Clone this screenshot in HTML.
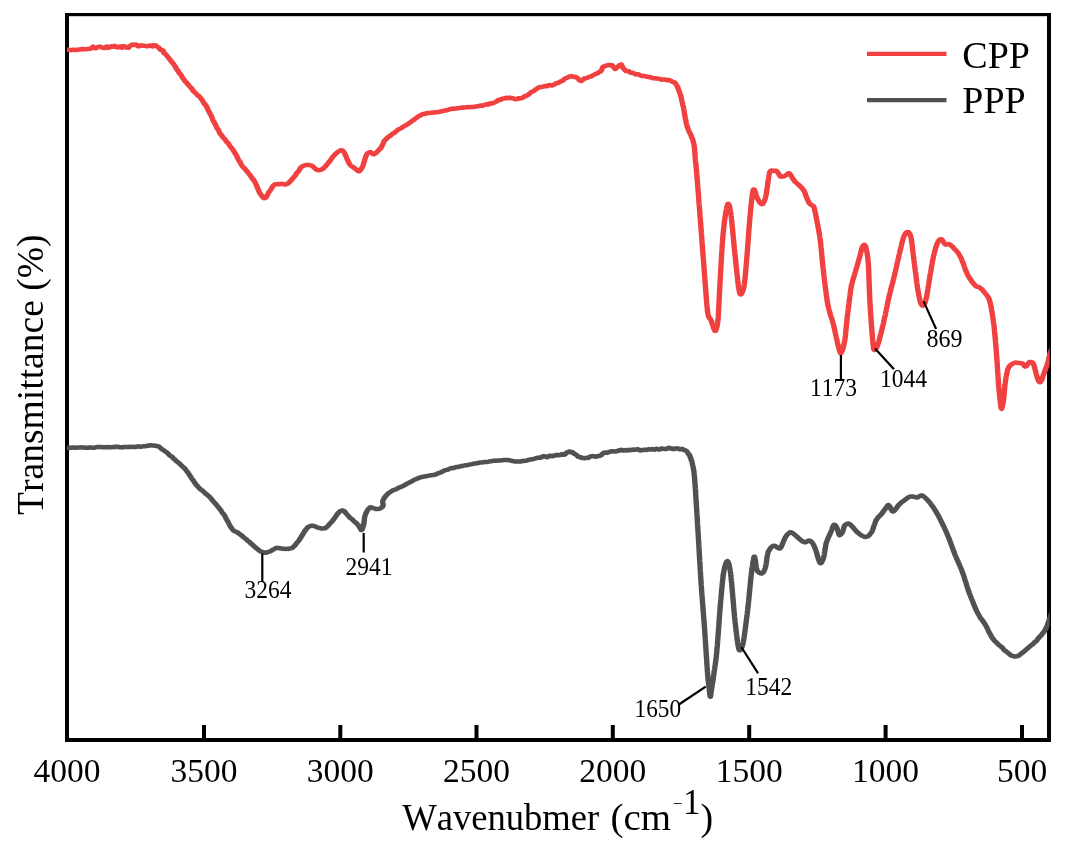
<!DOCTYPE html>
<html><head><meta charset="utf-8"><title>FTIR</title>
<style>
html,body{margin:0;padding:0;background:#fff;}
svg{display:block;will-change:transform;font-family:"Liberation Serif",serif;font-kerning:none;}
</style></head><body>
<svg width="1073" height="852" viewBox="0 0 1073 852">
<rect width="1073" height="852" fill="#fff"/>
<g fill="#000"><rect x="65" y="13" width="4" height="729"/><rect x="1047" y="13" width="4" height="729"/><rect x="65" y="13" width="986" height="3.2"/><rect x="65" y="738" width="986" height="4"/></g>
<rect x="202.0" y="725" width="4" height="14" fill="#000"/><rect x="338.3" y="725" width="4" height="14" fill="#000"/><rect x="474.5" y="725" width="4" height="14" fill="#000"/><rect x="610.8" y="725" width="4" height="14" fill="#000"/><rect x="747.2" y="725" width="4" height="14" fill="#000"/><rect x="883.6" y="725" width="4" height="14" fill="#000"/><rect x="1020.0" y="725" width="4" height="14" fill="#000"/>
<defs><clipPath id="plotclip"><rect x="67" y="16" width="982.7" height="722"/></clipPath></defs>
<g fill="none" stroke-linejoin="round" stroke-linecap="butt" clip-path="url(#plotclip)">
<g transform="scale(1.2,1)">
<polyline stroke="#f14040" stroke-width="4.5" points="51.67,50.1 52.05,50.1 52.55,50.2 53.20,50.2 54.02,50.1 55.03,49.7 56.25,49.7 56.66,49.8 57.12,49.9 57.62,49.9 58.17,50.0 58.76,50.2 59.39,50.0 60.04,50.0 60.72,49.7 61.43,49.7 62.16,49.8 62.90,49.9 63.66,49.9 64.42,49.8 65.18,49.5 65.95,49.5 66.71,49.4 67.47,49.4 68.21,49.1 68.94,49.1 69.65,49.1 70.33,49.3 70.85,49.3 71.41,49.3 72.00,49.3 72.61,49.0 73.25,49.0 73.92,48.7 74.60,48.8 75.30,48.7 76.02,48.4 76.75,47.6 77.49,46.7 78.24,47.6 79.00,47.9 79.75,48.3 80.51,47.3 81.27,47.3 82.01,46.8 82.76,46.8 83.49,46.8 84.20,46.9 84.91,47.5 85.59,47.5 86.25,47.9 86.89,47.7 87.51,48.0 88.09,47.7 88.65,46.7 89.17,46.5 89.84,46.9 90.54,47.8 91.24,47.4 91.96,47.2 92.68,46.3 93.41,46.7 94.14,46.6 94.87,46.7 95.59,45.9 96.31,46.3 97.03,47.2 97.73,47.4 98.42,47.4 99.09,46.7 99.75,46.9 100.38,46.3 101.00,46.8 101.58,47.7 102.14,47.4 102.67,47.2 103.17,46.2 103.87,47.0 104.55,46.6 105.22,47.5 105.87,47.7 106.51,47.7 107.15,47.7 107.79,46.7 108.43,46.0 109.07,45.3 109.73,44.8 110.41,44.8 111.11,44.5 111.83,45.1 112.58,45.0 113.08,44.5 113.64,44.8 114.25,45.0 114.91,46.2 115.62,46.2 116.35,46.3 117.12,45.7 117.90,45.2 118.71,45.6 119.52,45.8 120.34,45.8 121.16,45.8 121.97,46.3 122.76,46.3 123.54,46.1 124.28,45.8 125.00,45.5 125.67,45.4 126.30,45.8 126.88,46.2 127.40,46.5 127.86,45.3 128.25,45.2 129.51,45.4 130.20,45.6 130.59,46.1 130.92,46.5 131.42,47.0 131.81,47.3 132.25,47.4 132.73,48.6 133.24,48.8 133.77,49.6 134.33,50.2 134.90,50.4 135.49,50.3 136.08,51.0 136.40,52.6 136.73,53.2 137.10,53.4 137.48,53.5 137.89,54.2 138.31,54.8 138.75,55.2 139.20,55.9 139.67,56.7 140.14,57.3 140.61,58.0 141.09,58.8 141.57,59.4 142.05,60.2 142.53,60.9 143.00,61.8 143.46,62.3 143.92,63.1 144.21,63.5 144.52,64.0 144.84,64.4 145.18,65.2 145.52,65.8 145.88,66.3 146.25,66.8 146.63,67.9 147.01,68.6 147.41,69.6 147.81,70.0 148.21,70.6 148.62,71.3 149.04,72.4 149.46,73.2 149.88,73.7 150.30,74.1 150.73,74.8 151.15,75.6 151.58,76.7 152.00,77.6 152.42,78.3 152.83,78.7 153.24,79.4 153.65,80.3 154.05,81.2 154.45,81.6 154.83,81.9 155.19,82.1 155.57,82.9 155.98,83.6 156.40,84.2 156.84,84.6 157.30,85.3 157.77,85.9 158.25,86.9 158.75,87.4 159.26,87.8 159.77,88.5 160.29,89.5 160.81,90.8 161.34,91.1 161.86,91.9 162.39,92.5 162.91,93.0 163.43,93.6 163.94,94.2 164.44,95.1 164.93,95.6 165.41,95.9 165.88,96.3 166.33,96.8 166.76,97.2 167.18,97.9 167.58,98.5 167.95,99.5 168.30,99.7 168.62,100.5 168.92,100.9 169.39,102.1 169.83,102.9 170.25,103.7 170.65,104.3 171.02,104.5 171.38,105.1 171.72,105.6 172.06,106.5 172.38,107.1 172.69,108.1 172.99,108.8 173.30,109.7 173.60,110.5 173.90,111.2 174.21,111.5 174.52,112.4 174.84,113.2 175.17,114.2 175.40,114.5 175.65,114.9 175.91,115.4 176.17,116.3 176.44,117.0 176.72,117.8 177.00,118.6 177.30,119.7 177.59,120.5 177.90,120.8 178.20,121.5 178.51,122.3 178.83,123.1 179.15,123.7 179.47,124.2 179.79,125.3 180.11,126.2 180.44,127.1 180.76,128.0 181.09,128.5 181.41,129.0 181.73,129.3 182.05,130.1 182.37,130.8 182.69,131.9 183.00,132.9 183.32,133.5 183.67,133.9 184.04,134.2 184.43,135.0 184.83,135.5 185.25,136.4 185.69,137.2 186.14,137.9 186.60,138.3 187.06,138.9 187.53,139.4 188.01,140.3 188.49,141.2 188.96,142.0 189.44,142.5 189.91,142.8 190.38,143.5 190.84,144.5 191.29,145.5 191.73,146.1 192.15,146.9 192.56,147.4 192.95,148.1 193.32,148.4 193.67,148.9 194.00,149.6 194.36,150.3 194.71,151.1 195.07,151.6 195.43,152.2 195.79,152.9 196.15,153.8 196.51,154.4 196.87,155.1 197.23,155.7 197.59,157.0 197.95,158.0 198.30,158.8 198.66,159.6 199.01,160.3 199.37,160.9 199.72,161.5 200.06,161.8 200.41,162.8 200.75,163.6 201.09,164.7 201.42,165.4 201.76,166.0 202.08,166.5 202.44,167.0 202.82,167.3 203.22,167.8 203.64,168.1 204.08,168.8 204.54,169.6 205.00,170.2 205.48,170.9 205.96,171.2 206.45,172.3 206.93,173.0 207.41,173.7 207.89,174.3 208.36,174.9 208.82,176.0 209.26,176.6 209.69,177.6 210.10,178.3 210.49,178.9 210.86,179.4 211.19,179.5 211.50,180.2 211.84,180.7 212.17,181.8 212.50,182.1 212.83,183.1 213.15,184.0 213.47,184.8 213.78,185.4 214.09,186.1 214.40,187.4 214.69,188.2 214.98,188.8 215.27,189.3 215.54,190.3 215.81,191.4 216.07,192.2 216.31,192.7 216.55,193.0 216.78,193.5 217.00,194.0 217.59,194.9 218.19,195.8 218.79,196.9 219.38,197.6 219.94,198.2 220.46,197.9 220.92,198.1 221.29,197.8 221.66,197.6 222.04,196.8 222.41,195.9 222.80,194.9 223.19,194.2 223.59,193.2 224.00,192.1 224.33,191.4 224.71,191.2 225.13,190.7 225.58,189.7 226.05,188.8 226.53,187.8 227.01,186.9 227.48,185.9 227.94,185.5 228.36,185.0 228.75,184.6 229.36,184.2 230.01,184.3 230.69,184.2 231.39,184.2 232.09,183.9 232.77,184.2 233.42,184.1 234.00,184.1 234.64,183.9 235.32,183.8 236.04,184.1 236.77,184.3 237.51,184.5 238.23,184.3 238.92,183.9 239.29,184.0 239.71,183.5 240.15,183.4 240.62,182.7 241.10,182.4 241.61,181.4 242.12,180.9 242.63,180.4 243.15,179.7 243.66,178.8 244.15,178.0 244.63,177.5 245.09,176.8 245.52,176.2 245.92,175.7 246.33,175.2 246.76,174.2 247.20,173.1 247.65,172.5 248.11,172.0 248.57,171.6 249.04,170.9 249.50,169.8 249.97,168.7 250.43,167.9 250.88,167.3 251.32,166.8 251.75,166.5 252.17,166.3 252.78,165.8 253.47,165.6 254.22,165.2 255.00,165.1 255.79,165.1 256.58,165.0 257.34,165.0 258.05,165.1 258.70,165.3 259.25,165.5 259.88,165.8 260.50,166.3 261.11,166.9 261.71,167.5 262.30,168.2 262.86,168.9 263.40,169.4 263.92,169.8 264.52,170.0 265.19,170.2 265.89,170.2 266.60,169.9 267.30,169.7 267.97,169.5 268.58,169.1 269.00,168.9 269.45,168.5 269.93,168.0 270.41,167.4 270.91,166.6 271.42,166.1 271.92,165.3 272.41,164.6 272.88,163.9 273.33,163.2 273.69,162.8 274.08,162.1 274.50,161.5 274.94,160.9 275.39,160.2 275.85,159.4 276.32,158.5 276.78,157.7 277.24,157.0 277.67,156.4 278.09,155.9 278.48,155.4 278.83,154.8 279.41,154.1 280.02,153.4 280.66,152.7 281.30,152.2 281.92,151.6 282.51,151.1 283.04,150.8 283.50,150.4 284.29,150.3 285.04,150.3 285.79,150.9 286.58,152.1 286.81,152.5 287.06,153.0 287.33,153.6 287.62,154.3 287.93,155.0 288.25,156.0 288.58,157.1 288.91,158.1 289.25,159.0 289.58,159.9 289.91,160.7 290.23,161.5 290.53,162.4 290.82,163.1 291.09,163.7 291.33,164.0 291.88,165.1 292.46,165.7 293.04,166.3 293.63,166.6 294.20,167.1 294.75,167.5 295.25,167.9 295.77,168.5 296.34,169.0 296.95,169.7 297.56,170.2 298.15,170.7 298.69,171.1 299.17,171.3 299.61,171.1 300.06,170.5 300.52,169.7 300.98,169.0 301.42,168.2 301.85,167.3 302.25,166.2 302.45,165.5 302.66,164.8 302.88,163.9 303.11,163.1 303.35,162.2 303.59,161.3 303.83,160.2 304.08,159.3 304.32,158.3 304.55,157.5 304.79,156.7 305.01,156.2 305.22,155.5 305.42,154.9 305.99,153.7 306.63,153.0 307.29,152.6 307.92,152.3 308.50,152.1 309.05,152.3 309.64,152.9 310.27,153.7 310.95,154.2 311.67,154.2 312.04,154.0 312.49,153.6 312.99,153.3 313.53,152.7 314.09,152.1 314.66,151.4 315.23,150.7 315.78,149.9 316.30,149.3 316.76,148.7 317.17,148.2 317.49,147.7 317.81,147.1 318.11,146.5 318.41,145.7 318.71,144.9 319.00,144.1 319.31,143.3 319.63,142.4 319.96,141.6 320.31,140.9 320.68,140.3 321.08,139.8 321.46,139.4 321.89,138.9 322.36,138.4 322.87,137.8 323.40,137.2 323.96,136.6 324.55,136.3 325.15,135.7 325.76,135.2 326.38,134.5 327.00,133.9 327.62,133.5 328.23,133.1 328.83,132.5 329.27,132.1 329.74,131.6 330.24,131.1 330.78,130.6 331.34,130.0 331.93,129.6 332.53,129.2 333.15,128.8 333.78,128.5 334.42,128.1 335.06,127.6 335.70,127.1 336.34,126.6 336.97,126.1 337.59,125.7 338.20,125.3 338.79,124.8 339.36,124.4 339.90,124.1 340.42,123.7 340.93,123.2 341.46,122.7 342.01,122.3 342.57,121.8 343.15,121.2 343.75,120.6 344.35,120.2 344.96,119.7 345.58,119.2 346.20,118.6 346.82,118.0 347.44,117.5 348.05,117.0 348.66,116.5 349.27,116.1 349.86,115.6 350.44,115.2 351.00,114.9 351.55,114.6 352.08,114.3 352.64,114.0 353.23,113.9 353.84,113.9 354.46,113.6 355.11,113.4 355.77,113.2 356.44,113.1 357.12,113.1 357.82,113.0 358.51,112.9 359.22,112.7 359.92,112.6 360.62,112.7 361.32,112.6 362.01,112.5 362.69,112.2 363.36,112.2 364.02,112.1 364.67,112.2 365.21,112.0 365.78,112.0 366.39,111.7 367.01,111.5 367.67,111.2 368.34,111.2 369.03,111.1 369.74,110.9 370.46,110.5 371.19,110.4 371.92,110.3 372.66,110.2 373.40,109.9 374.14,109.5 374.88,109.2 375.60,109.0 376.32,108.9 377.02,108.7 377.71,108.6 378.38,108.7 379.03,108.6 379.65,108.5 380.25,108.3 380.85,108.4 381.48,108.3 382.13,108.3 382.81,108.0 383.51,107.8 384.23,107.6 384.96,107.8 385.70,107.6 386.45,107.5 387.20,107.4 387.95,107.4 388.70,107.3 389.45,107.1 390.19,107.2 390.91,107.2 391.63,107.1 392.32,107.1 392.99,107.0 393.64,107.1 394.26,107.0 394.85,106.9 395.40,106.8 395.92,106.6 396.63,106.4 397.35,106.4 398.08,106.2 398.80,106.1 399.53,105.9 400.25,105.6 400.96,105.7 401.67,105.9 402.37,105.5 403.06,105.3 403.75,104.8 404.41,104.8 405.07,104.3 405.70,104.4 406.32,104.2 406.92,104.5 407.49,104.0 408.10,103.4 408.73,103.3 409.40,103.4 410.08,103.5 410.78,103.2 411.48,102.8 412.19,102.5 412.90,102.0 413.60,101.6 414.28,100.9 414.95,100.2 415.60,99.9 416.21,100.1 416.79,99.9 417.34,99.8 417.83,99.0 418.58,98.8 419.34,98.6 420.11,98.5 420.89,98.3 421.66,97.8 422.42,97.9 423.15,98.2 423.85,98.0 424.51,97.6 425.12,97.8 425.67,97.9 426.39,98.2 427.11,98.0 427.83,98.5 428.55,98.8 429.24,99.3 429.92,99.3 430.56,99.1 431.17,98.7 431.74,98.3 432.31,98.7 432.89,98.5 433.50,98.2 434.15,98.1 434.87,97.8 435.68,97.9 436.58,96.8 436.96,96.7 437.39,96.0 437.86,96.1 438.36,95.8 438.91,95.7 439.49,95.2 440.09,94.9 440.71,94.2 441.35,93.6 442.00,92.8 442.67,92.1 443.33,91.8 443.99,91.4 444.65,91.3 445.30,90.4 445.93,89.9 446.55,89.2 447.14,89.1 447.70,88.4 448.23,88.0 448.72,87.5 449.17,87.3 449.84,87.1 450.53,87.0 451.22,87.0 451.92,86.9 452.62,86.7 453.31,86.4 454.00,86.1 454.69,86.2 455.36,86.2 456.03,86.2 456.67,85.4 457.30,85.2 457.91,84.9 458.50,85.3 459.06,85.4 459.65,85.6 460.28,85.4 460.94,85.0 461.61,84.7 462.29,84.1 462.98,83.6 463.67,83.2 464.36,83.1 465.02,83.1 465.67,82.5 466.29,82.1 466.87,81.4 467.42,81.4 467.92,81.3 468.58,80.8 469.26,80.4 469.96,79.4 470.66,78.8 471.37,78.2 472.06,77.9 472.72,77.8 473.36,77.3 473.96,76.8 474.51,76.7 475.00,76.3 475.72,76.4 476.44,76.1 477.16,76.5 477.84,76.9 478.50,77.0 479.11,76.8 479.67,76.7 480.27,77.2 480.85,77.8 481.46,78.4 482.09,79.3 482.80,80.2 483.58,80.9 484.05,81.0 484.59,81.0 485.21,80.3 485.87,79.5 486.57,78.7 487.30,78.4 488.04,78.3 488.78,78.0 489.50,77.6 490.19,77.4 490.83,76.9 491.42,76.7 492.00,76.4 492.63,76.5 493.30,76.1 494.00,75.3 494.71,75.0 495.42,74.5 496.12,74.1 496.79,73.6 497.43,73.6 498.02,73.3 498.55,72.6 499.00,72.1 499.52,72.0 499.99,71.6 500.42,71.5 500.83,70.8 501.23,70.4 501.62,69.0 502.03,68.0 502.45,66.8 502.92,66.6 503.47,66.4 504.12,66.0 504.86,65.8 505.64,65.3 506.44,65.3 507.22,64.9 507.96,65.2 508.62,65.3 509.17,65.3 509.78,65.0 510.38,65.5 510.97,66.4 511.53,67.5 512.07,68.4 512.59,69.0 513.08,68.8 513.58,68.0 514.12,67.4 514.67,67.0 515.25,66.4 515.84,65.7 516.42,65.1 517.00,64.8 517.36,64.5 517.73,64.5 518.11,65.3 518.51,66.3 518.94,67.6 519.40,68.2 519.89,68.8 520.44,69.5 521.04,70.4 521.69,71.0 522.42,71.1 522.82,71.1 523.28,71.1 523.79,71.2 524.33,71.5 524.92,72.3 525.54,72.8 526.19,72.9 526.86,72.7 527.56,72.9 528.27,73.4 528.99,73.8 529.72,74.4 530.45,74.2 531.19,74.3 531.92,74.2 532.63,74.6 533.34,75.2 534.03,75.5 534.69,76.0 535.33,76.1 535.93,75.9 536.50,75.9 537.09,76.0 537.72,76.4 538.37,76.4 539.04,76.7 539.74,77.0 540.45,77.1 541.17,77.3 541.90,77.1 542.64,77.5 543.38,77.8 544.12,78.2 544.86,78.4 545.58,78.2 546.30,78.4 547.00,78.3 547.68,78.5 548.33,78.6 548.97,78.8 549.57,78.9 550.14,79.1 550.67,79.5 551.36,79.7 552.07,79.6 552.81,79.4 553.57,79.4 554.34,79.5 555.11,80.0 555.88,80.1 556.63,80.2 557.38,80.0 558.10,80.2 558.79,80.5 559.44,81.0 560.06,81.6 560.62,81.9 561.13,82.3 561.58,82.2 562.05,82.4 562.48,83.0 562.90,83.6 563.29,84.2 563.65,84.7 564.00,85.5 564.33,86.4 564.64,86.9 564.94,87.7 565.22,88.7 565.50,89.6 565.76,90.7 566.01,91.1 566.25,92.3 566.43,92.8 566.60,93.6 566.78,93.9 566.96,94.3 567.14,95.1 567.31,95.9 567.49,96.7 567.66,97.6 567.83,98.8 568.00,99.6 568.17,100.5 568.34,101.2 568.50,102.2 568.66,102.7 568.82,103.4 568.98,104.6 569.13,105.5 569.27,106.2 569.42,106.5 569.53,107.1 569.65,107.9 569.77,109.0 569.89,109.8 570.01,110.5 570.13,111.3 570.26,112.6 570.38,113.9 570.51,114.4 570.64,115.0 570.77,115.9 570.90,116.9 571.03,118.0 571.17,118.5 571.31,119.2 571.45,119.9 571.59,121.0 571.74,122.2 571.88,123.1 572.03,123.8 572.19,124.4 572.34,125.1 572.50,125.8 572.68,126.7 572.88,127.3 573.10,128.0 573.34,128.8 573.60,129.9 573.87,130.5 574.15,131.3 574.44,132.1 574.73,132.9 575.03,133.3 575.33,133.8 575.63,134.6 575.92,135.7 576.21,136.6 576.49,137.8 576.76,138.2 577.01,138.8 577.25,139.5 577.47,140.6 577.67,141.8 577.85,142.5 578.00,143.1 578.13,143.6 578.25,144.1 578.36,144.9 578.46,145.5 578.56,146.4 578.65,147.3 578.74,148.2 578.81,149.3 578.89,150.1 578.96,151.1 579.02,152.0 579.08,153.0 579.14,154.3 579.19,155.5 579.24,156.5 579.29,157.3 579.33,157.8 579.38,158.6 579.42,159.1 579.46,159.7 579.50,160.1 579.54,160.9 579.58,161.5 579.68,162.6 579.75,162.9 579.79,163.4 579.84,163.4 579.89,163.9 579.97,164.4 580.08,166.1 580.25,168.6 580.28,169.1 580.31,169.3 580.34,169.6 580.38,169.8 580.41,170.4 580.45,171.0 580.49,172.0 580.53,172.4 580.57,173.0 580.62,173.5 580.66,174.6 580.71,175.1 580.76,175.7 580.81,176.3 580.86,177.3 580.91,178.2 580.96,179.1 581.02,179.8 581.07,180.6 581.13,181.2 581.18,181.9 581.24,182.8 581.30,183.7 581.36,184.7 581.42,185.8 581.48,186.9 581.54,187.5 581.60,188.1 581.66,189.0 581.72,190.1 581.78,191.0 581.84,191.8 581.90,192.6 581.97,193.7 582.03,194.6 582.09,195.6 582.15,196.9 582.22,198.1 582.28,199.2 582.34,200.1 582.40,201.1 582.46,202.2 582.52,202.9 582.58,203.7 582.64,204.3 582.70,205.4 582.76,206.1 582.81,207.2 582.87,208.1 582.93,208.9 582.98,209.6 583.03,210.4 583.09,211.3 583.14,212.1 583.19,212.5 583.24,213.1 583.29,213.8 583.33,214.9 583.38,215.7 583.42,216.4 583.47,217.0 583.51,217.8 583.56,218.6 583.61,219.4 583.65,220.1 583.70,220.9 583.75,221.5 583.80,222.4 583.85,223.2 583.90,224.0 583.95,224.7 584.00,225.5 584.05,226.5 584.10,227.3 584.16,227.9 584.21,228.7 584.26,229.6 584.31,230.6 584.37,231.6 584.42,232.4 584.48,233.1 584.53,233.9 584.58,234.9 584.64,235.8 584.69,236.6 584.75,237.3 584.80,238.2 584.86,239.0 584.91,240.1 584.97,240.9 585.02,241.9 585.08,242.6 585.13,243.4 585.19,244.3 585.24,245.3 585.30,246.2 585.35,247.1 585.40,248.0 585.46,248.8 585.51,249.7 585.56,250.4 585.62,251.2 585.67,252.1 585.72,252.9 585.78,253.8 585.83,254.5 585.88,255.4 585.93,256.2 585.98,257.1 586.03,258.0 586.08,258.7 586.13,259.4 586.18,259.9 586.23,260.6 586.27,261.4 586.32,262.1 586.37,262.9 586.41,263.6 586.46,264.4 586.50,265.1 586.55,265.8 586.60,266.6 586.64,267.2 586.69,268.0 586.74,268.6 586.79,269.3 586.85,270.2 586.90,271.1 586.95,272.1 587.00,273.1 587.06,273.9 587.11,274.6 587.17,275.4 587.22,276.4 587.28,277.2 587.34,278.1 587.39,279.1 587.45,280.1 587.51,281.0 587.56,281.8 587.62,282.8 587.68,283.8 587.74,284.7 587.80,285.7 587.85,286.6 587.91,287.6 587.97,288.5 588.03,289.4 588.09,290.4 588.15,291.2 588.21,292.2 588.26,293.1 588.32,294.1 588.38,294.9 588.44,295.7 588.50,296.6 588.55,297.5 588.61,298.5 588.67,299.3 588.73,299.9 588.78,300.8 588.84,301.6 588.89,302.4 588.95,303.1 589.01,304.0 589.06,304.7 589.11,305.4 589.17,306.0 589.22,306.6 589.27,307.2 589.32,307.8 589.38,308.5 589.43,309.0 589.48,309.5 589.52,310.0 589.57,310.5 589.62,311.1 589.67,311.5 589.90,313.3 590.14,314.7 590.40,315.9 590.66,316.8 590.93,317.6 591.21,318.1 591.48,318.4 591.75,318.8 592.02,319.3 592.27,319.7 592.52,320.2 592.75,320.9 592.97,321.7 593.20,322.6 593.45,323.5 593.71,324.6 593.97,325.5 594.24,326.3 594.51,327.3 594.77,328.4 595.03,329.3 595.28,330.0 595.51,330.5 595.72,330.8 595.92,331.0 596.10,330.9 596.29,330.8 596.49,330.3 596.68,329.8 596.88,329.2 597.07,328.7 597.26,327.8 597.45,326.9 597.63,325.7 597.80,324.6 597.96,323.5 598.11,322.1 598.25,320.6 598.29,320.1 598.33,319.7 598.37,319.2 598.41,318.6 598.45,318.0 598.48,317.4 598.52,316.9 598.56,316.4 598.60,315.7 598.64,314.9 598.67,314.0 598.71,313.2 598.75,312.4 598.78,311.8 598.82,311.0 598.86,310.3 598.90,309.4 598.93,308.6 598.97,307.6 599.01,306.8 599.04,305.9 599.08,305.0 599.11,304.0 599.15,303.1 599.19,302.1 599.22,301.3 599.26,300.5 599.30,299.7 599.34,298.8 599.37,297.7 599.41,296.8 599.45,295.8 599.48,294.9 599.52,294.0 599.56,293.1 599.60,292.2 599.64,291.4 599.68,290.4 599.71,289.6 599.75,288.6 599.79,287.8 599.83,286.9 599.86,286.4 599.89,285.9 599.92,285.2 599.96,284.5 599.99,283.8 600.02,283.1 600.06,282.3 600.09,281.5 600.13,280.7 600.17,280.0 600.20,279.0 600.24,278.1 600.28,277.4 600.32,276.6 600.36,275.8 600.40,274.9 600.44,274.2 600.48,273.3 600.52,272.5 600.57,271.5 600.61,270.4 600.65,269.4 600.70,268.6 600.74,267.8 600.78,266.8 600.83,265.8 600.87,264.9 600.92,264.0 600.96,263.2 601.00,262.2 601.05,261.1 601.09,260.2 601.14,259.3 601.18,258.5 601.23,257.5 601.27,256.4 601.32,255.5 601.36,254.8 601.40,253.9 601.45,252.9 601.49,251.9 601.54,251.2 601.58,250.4 601.62,249.7 601.66,248.9 601.71,248.2 601.75,247.3 601.79,246.5 601.83,245.6 601.87,244.9 601.91,244.2 601.95,243.6 601.99,242.8 602.02,242.2 602.06,241.6 602.10,241.2 602.13,240.5 602.17,240.1 602.23,239.0 602.30,238.1 602.37,237.1 602.44,236.2 602.51,235.1 602.59,234.1 602.66,233.1 602.74,232.3 602.82,231.4 602.89,230.4 602.97,229.4 603.05,228.5 603.13,227.6 603.21,226.8 603.29,226.0 603.37,225.3 603.45,224.4 603.53,223.5 603.61,222.6 603.69,221.8 603.77,221.1 603.85,220.5 603.93,219.8 604.01,219.2 604.08,218.6 604.15,218.0 604.23,217.4 604.30,216.8 604.37,216.2 604.43,215.6 604.50,214.9 604.65,213.9 604.80,212.8 604.97,211.7 605.14,210.6 605.31,209.5 605.49,208.6 605.67,207.5 605.84,206.5 606.02,205.8 606.20,205.1 606.37,204.6 606.53,204.2 606.69,203.9 606.83,203.8 606.98,203.8 607.13,204.0 607.29,204.4 607.45,204.8 607.62,205.3 607.78,205.9 607.96,206.6 608.13,207.6 608.30,208.7 608.48,210.0 608.65,211.1 608.83,212.3 609.00,213.5 609.17,215.1 609.22,215.5 609.27,216.0 609.33,216.4 609.38,217.1 609.44,217.6 609.50,218.4 609.56,218.9 609.62,219.8 609.69,220.4 609.75,221.1 609.82,221.8 609.88,222.7 609.95,223.6 610.02,224.4 610.09,225.2 610.16,225.9 610.23,226.8 610.31,227.7 610.38,228.7 610.45,229.5 610.52,230.3 610.60,231.1 610.67,232.3 610.75,233.3 610.82,234.2 610.90,235.1 610.97,236.0 611.04,236.9 611.12,237.8 611.19,238.7 611.27,239.5 611.34,240.5 611.41,241.4 611.48,242.4 611.55,243.2 611.63,244.1 611.70,245.0 611.76,245.9 611.83,246.9 611.90,247.7 611.96,248.4 612.03,249.0 612.09,249.7 612.16,250.4 612.22,251.2 612.28,252.0 612.33,252.7 612.40,253.3 612.46,254.0 612.53,254.8 612.60,255.6 612.67,256.5 612.75,257.5 612.82,258.4 612.90,259.3 612.97,260.1 613.05,260.8 613.13,261.8 613.21,262.8 613.29,263.8 613.37,264.7 613.45,265.6 613.53,266.5 613.62,267.3 613.70,268.2 613.78,269.2 613.86,270.3 613.94,271.3 614.02,272.1 614.10,273.0 614.18,273.9 614.26,274.8 614.34,275.6 614.42,276.5 614.50,277.3 614.57,278.1 614.65,278.9 614.72,279.8 614.80,280.7 614.87,281.3 614.93,282.1 615.00,282.7 615.07,283.5 615.13,284.1 615.19,284.6 615.25,285.1 615.31,285.6 615.36,286.1 615.42,286.5 615.63,288.2 615.83,289.7 616.02,291.0 616.20,292.1 616.39,293.0 616.57,293.5 616.76,293.8 616.94,294.3 617.13,294.5 617.33,294.5 617.52,294.3 617.73,294.1 617.96,293.7 618.21,293.1 618.46,292.5 618.73,291.7 618.99,290.9 619.25,289.9 619.51,288.8 619.75,287.6 619.97,286.3 620.17,284.9 620.23,284.5 620.29,284.0 620.35,283.4 620.42,283.0 620.48,282.2 620.55,281.6 620.62,280.7 620.68,280.1 620.75,279.4 620.82,278.6 620.88,277.8 620.95,277.0 621.02,276.2 621.09,275.5 621.16,274.7 621.22,273.8 621.29,272.7 621.36,271.7 621.43,270.7 621.50,269.8 621.56,269.0 621.63,268.2 621.70,267.5 621.76,266.5 621.83,265.4 621.89,264.3 621.96,263.3 622.02,262.5 622.08,261.6 622.15,260.8 622.21,259.9 622.27,259.0 622.33,258.3 622.39,257.3 622.44,256.6 622.50,255.6 622.54,255.1 622.59,254.4 622.63,253.8 622.68,253.0 622.73,252.3 622.78,251.6 622.83,250.7 622.87,249.9 622.92,249.1 622.98,248.5 623.03,247.6 623.08,246.8 623.13,245.8 623.18,244.9 623.24,244.1 623.29,243.3 623.34,242.5 623.40,241.6 623.45,240.6 623.50,239.7 623.56,238.9 623.61,238.1 623.67,237.2 623.72,236.3 623.78,235.3 623.83,234.3 623.88,233.5 623.94,232.7 623.99,231.8 624.04,230.9 624.10,230.1 624.15,229.3 624.20,228.4 624.26,227.4 624.31,226.5 624.36,225.8 624.41,225.0 624.46,224.4 624.51,223.6 624.56,222.8 624.60,222.2 624.65,221.4 624.70,220.9 624.74,220.1 624.79,219.6 624.83,218.8 624.90,218.1 624.96,217.2 625.03,216.3 625.09,215.3 625.16,214.6 625.23,213.8 625.31,213.0 625.38,212.1 625.46,211.0 625.53,209.9 625.61,208.8 625.69,208.0 625.77,207.1 625.84,206.3 625.92,205.4 626.00,204.6 626.08,203.7 626.16,202.8 626.23,201.9 626.31,200.9 626.39,200.1 626.46,199.2 626.53,198.4 626.61,197.6 626.68,197.0 626.75,196.4 626.81,195.6 626.88,194.9 626.94,194.4 627.00,193.8 627.06,193.4 627.11,193.0 627.17,192.6 627.57,190.4 627.96,189.4 628.35,189.4 628.75,189.9 628.91,190.3 629.09,190.7 629.27,191.2 629.47,192.0 629.68,193.1 629.90,194.1 630.13,195.0 630.36,195.8 630.60,196.8 630.84,197.5 631.08,198.3 631.42,199.0 631.82,199.8 632.27,200.7 632.75,201.7 633.24,202.7 633.73,203.3 634.20,203.8 634.63,203.9 635.00,204.2 635.31,204.0 635.63,203.8 635.96,203.2 636.29,202.6 636.63,201.8 636.96,200.9 637.28,199.9 637.59,198.9 637.89,197.7 638.17,196.2 638.26,195.8 638.36,195.3 638.46,194.8 638.56,193.9 638.66,193.2 638.77,192.4 638.87,191.5 638.98,190.4 639.09,189.5 639.20,188.6 639.31,187.7 639.43,186.9 639.54,185.9 639.65,184.9 639.76,183.8 639.88,182.8 639.99,181.9 640.10,180.9 640.22,179.9 640.33,179.0 640.44,178.2 640.54,177.2 640.65,176.5 640.76,175.6 640.86,175.1 640.96,174.3 641.06,173.8 641.16,173.2 641.25,172.9 641.84,171.3 642.49,170.7 643.17,170.5 643.83,170.8 644.42,170.9 645.15,170.8 645.96,170.7 646.77,170.8 647.50,171.5 647.90,172.0 648.34,172.9 648.80,173.6 649.28,174.6 649.75,175.5 650.22,176.3 650.67,176.6 651.37,176.7 652.19,176.6 653.06,176.3 653.89,176.0 654.58,175.6 655.19,175.2 655.81,174.4 656.44,173.7 657.06,173.2 657.67,173.3 657.97,173.6 658.30,174.0 658.64,174.5 658.99,175.2 659.37,176.0 659.77,177.0 660.19,177.9 660.63,178.7 661.09,179.4 661.58,180.1 661.93,180.6 662.33,181.3 662.78,181.9 663.26,182.5 663.78,183.0 664.33,183.6 664.89,184.1 665.46,184.8 666.03,185.3 666.59,186.1 667.14,186.6 667.67,187.3 668.17,187.8 668.63,188.5 669.05,189.3 669.42,190.0 669.73,190.4 670.05,191.0 670.36,191.8 670.67,192.6 670.97,193.5 671.27,194.5 671.57,195.6 671.86,196.4 672.14,197.3 672.42,198.2 672.70,198.9 672.96,199.7 673.22,200.3 673.47,201.0 673.71,201.8 673.94,202.3 674.17,202.9 674.73,203.7 675.33,204.4 675.95,204.8 676.56,205.2 677.13,205.5 677.65,205.9 678.08,206.6 678.26,207.0 678.43,207.7 678.59,208.4 678.76,209.2 678.91,210.0 679.07,210.9 679.22,211.7 679.37,212.4 679.52,213.3 679.67,214.2 679.81,215.2 679.96,216.1 680.11,217.0 680.26,217.9 680.42,218.8 680.51,219.5 680.61,220.0 680.71,220.7 680.82,221.3 680.94,222.0 681.05,222.7 681.18,223.4 681.30,224.4 681.43,225.2 681.56,226.0 681.69,226.8 681.82,227.7 681.95,228.4 682.09,229.3 682.22,230.1 682.35,231.2 682.48,232.0 682.61,232.8 682.73,233.5 682.86,234.3 682.98,235.2 683.09,236.2 683.20,237.0 683.31,238.0 683.41,238.7 683.50,239.5 683.57,240.1 683.63,240.8 683.70,241.5 683.76,242.1 683.83,242.7 683.89,243.5 683.95,244.2 684.02,244.9 684.08,245.7 684.15,246.6 684.21,247.5 684.28,248.1 684.34,248.8 684.41,249.6 684.47,250.6 684.54,251.5 684.60,252.2 684.67,253.1 684.73,253.9 684.80,254.8 684.87,255.6 684.93,256.5 685.00,257.4 685.07,258.3 685.14,259.3 685.20,260.0 685.27,260.9 685.34,261.7 685.41,262.7 685.48,263.5 685.55,264.3 685.62,265.0 685.70,265.9 685.77,266.6 685.84,267.5 685.92,268.2 685.98,268.8 686.04,269.4 686.11,270.1 686.18,270.8 686.25,271.7 686.32,272.5 686.40,273.4 686.48,274.1 686.56,274.8 686.64,275.7 686.72,276.4 686.80,277.4 686.89,278.3 686.98,279.3 687.06,280.0 687.15,281.0 687.24,281.7 687.34,282.7 687.43,283.6 687.52,284.5 687.61,285.4 687.71,286.4 687.80,287.4 687.90,288.3 687.99,289.2 688.09,290.1 688.19,291.1 688.28,291.9 688.38,292.7 688.47,293.6 688.57,294.4 688.66,295.3 688.76,296.0 688.85,296.9 688.95,297.7 689.04,298.5 689.13,299.4 689.22,300.0 689.31,300.7 689.40,301.5 689.49,302.2 689.58,302.8 689.67,303.2 689.75,303.8 689.90,304.8 690.05,305.8 690.21,306.6 690.38,307.3 690.56,308.1 690.74,309.1 690.93,310.0 691.12,310.8 691.32,311.6 691.52,312.4 691.72,313.4 691.92,314.2 692.12,315.1 692.32,315.9 692.53,316.6 692.73,317.4 692.93,318.0 693.12,318.8 693.31,319.3 693.50,320.1 693.68,320.9 693.86,321.7 694.03,322.5 694.20,323.1 694.35,323.8 694.50,324.3 694.65,325.1 694.79,325.9 694.95,326.8 695.11,327.5 695.26,328.2 695.43,329.1 695.59,330.0 695.76,331.1 695.92,331.8 696.09,332.9 696.26,333.7 696.42,334.8 696.59,335.6 696.75,336.4 696.91,337.1 697.07,338.1 697.23,338.9 697.38,339.7 697.53,340.6 697.67,341.5 697.81,342.4 697.95,343.1 698.07,343.7 698.20,344.3 698.31,344.8 698.42,345.3 698.68,346.5 698.93,347.5 699.17,348.6 699.40,349.6 699.63,350.7 699.85,351.5 700.07,352.3 700.30,352.8 700.52,353.2 700.75,353.2 700.91,352.9 701.10,352.6 701.29,352.2 701.50,351.7 701.72,350.9 701.94,350.2 702.17,349.5 702.40,348.8 702.63,347.8 702.86,346.8 703.08,345.6 703.29,344.5 703.48,343.4 703.67,342.5 703.83,341.3 703.90,340.9 703.98,340.2 704.05,339.8 704.12,339.1 704.19,338.6 704.27,337.8 704.34,337.3 704.41,336.5 704.49,335.7 704.56,334.7 704.63,334.0 704.71,333.0 704.78,332.3 704.86,331.4 704.93,330.5 705.00,329.6 705.08,328.7 705.15,327.8 705.23,326.7 705.30,325.7 705.37,324.9 705.45,324.1 705.52,323.4 705.60,322.6 705.67,321.7 705.74,320.8 705.82,320.0 705.89,319.1 705.96,318.1 706.03,317.2 706.11,316.4 706.18,315.7 706.25,315.1 706.32,314.4 706.39,313.7 706.46,312.9 706.54,312.3 706.62,311.4 706.70,310.5 706.79,309.7 706.87,308.8 706.96,308.1 707.05,307.2 707.14,306.4 707.23,305.5 707.32,304.6 707.42,303.8 707.51,302.8 707.61,301.9 707.70,300.9 707.80,299.9 707.90,298.9 707.99,298.0 708.09,297.2 708.18,296.3 708.28,295.6 708.37,294.8 708.47,294.0 708.56,293.0 708.65,292.2 708.75,291.4 708.83,290.8 708.92,290.0 709.01,289.2 709.09,288.5 709.18,288.0 709.26,287.6 709.33,286.9 709.49,286.0 709.65,284.9 709.82,284.0 709.99,283.3 710.17,282.4 710.35,281.7 710.54,280.7 710.72,280.0 710.91,279.2 711.10,278.5 711.29,277.8 711.48,277.0 711.66,276.4 711.84,275.6 712.01,275.0 712.18,274.2 712.35,273.5 712.50,272.8 712.67,272.2 712.86,271.6 713.05,270.9 713.25,269.9 713.46,269.0 713.66,268.0 713.88,267.3 714.09,266.5 714.30,265.7 714.51,264.9 714.72,264.0 714.92,263.2 715.12,262.4 715.31,261.5 715.49,260.8 715.67,260.0 715.83,259.3 716.00,258.5 716.18,257.7 716.37,257.0 716.56,256.1 716.75,255.3 716.95,254.4 717.15,253.4 717.35,252.3 717.54,251.4 717.74,250.6 717.92,249.9 718.11,248.9 718.28,248.3 718.45,247.7 718.61,247.3 718.75,246.8 719.57,245.3 720.41,244.9 721.17,246.1 721.27,246.6 721.38,246.9 721.50,247.3 721.62,247.7 721.74,248.3 721.87,248.9 721.99,249.6 722.12,250.3 722.25,251.0 722.38,251.7 722.51,252.6 722.64,253.5 722.76,254.4 722.88,255.3 723.00,256.3 723.11,257.4 723.22,258.6 723.32,259.6 723.41,260.8 723.50,262.0 723.53,262.3 723.56,263.0 723.60,263.5 723.63,264.3 723.66,264.9 723.69,265.5 723.72,266.1 723.75,266.6 723.78,267.4 723.81,268.1 723.84,268.8 723.87,269.4 723.89,270.4 723.92,271.2 723.95,272.1 723.98,272.8 724.01,273.7 724.04,274.6 724.06,275.6 724.09,276.4 724.12,277.3 724.15,278.2 724.18,279.1 724.20,280.0 724.23,280.9 724.26,281.8 724.29,282.9 724.32,283.8 724.34,284.8 724.37,285.6 724.40,286.4 724.43,287.4 724.46,288.3 724.48,289.3 724.51,290.1 724.54,290.9 724.57,292.0 724.60,292.9 724.63,293.8 724.66,294.6 724.69,295.6 724.72,296.4 724.75,297.2 724.78,298.0 724.81,298.8 724.84,299.7 724.87,300.6 724.90,301.2 724.93,301.9 724.97,302.6 725.00,303.3 725.04,303.9 725.07,304.8 725.11,305.6 725.15,306.3 725.19,307.1 725.24,307.9 725.28,308.8 725.33,309.6 725.37,310.6 725.42,311.6 725.47,312.3 725.52,313.2 725.57,314.0 725.63,314.9 725.68,315.8 725.73,316.9 725.79,317.8 725.84,318.7 725.90,319.6 725.95,320.6 726.01,321.5 726.07,322.5 726.12,323.4 726.18,324.5 726.24,325.5 726.29,326.5 726.35,327.3 726.41,328.1 726.46,328.9 726.52,329.8 726.57,330.7 726.63,331.5 726.68,332.3 726.74,333.1 726.79,334.0 726.84,334.8 726.89,335.5 726.94,336.3 726.99,337.0 727.04,337.8 727.09,338.4 727.14,338.9 727.18,339.5 727.22,340.2 727.27,340.8 727.31,341.4 727.34,341.8 727.38,342.4 727.42,342.7 727.59,344.7 727.75,346.2 727.91,347.4 728.05,348.4 728.20,349.2 728.36,349.7 728.52,349.9 728.71,350.1 728.92,350.1 729.14,350.1 729.39,349.8 729.68,349.4 730.00,348.8 730.33,348.1 730.68,347.2 731.03,346.3 731.39,345.1 731.74,343.9 732.08,342.4 732.21,342.0 732.34,341.6 732.48,341.1 732.63,340.4 732.78,339.7 732.95,339.0 733.11,338.1 733.28,337.3 733.46,336.5 733.64,335.8 733.82,334.8 734.00,334.0 734.19,333.2 734.38,332.3 734.56,331.3 734.75,330.4 734.94,329.5 735.12,328.5 735.30,327.5 735.48,326.5 735.66,325.7 735.83,324.9 736.00,324.1 736.16,323.2 736.32,322.5 736.47,321.7 736.61,320.9 736.75,320.0 736.88,319.3 737.02,318.5 737.15,318.0 737.29,317.3 737.43,316.5 737.57,315.8 737.71,315.1 737.85,314.3 737.99,313.3 738.13,312.3 738.27,311.4 738.42,310.6 738.56,309.7 738.70,308.8 738.85,307.9 738.99,307.2 739.13,306.4 739.28,305.6 739.42,304.7 739.56,303.9 739.70,303.1 739.85,302.2 739.99,301.4 740.12,300.6 740.26,299.9 740.40,299.2 740.53,298.5 740.67,297.8 740.80,296.9 740.94,296.2 741.08,295.5 741.23,294.8 741.38,294.0 741.54,293.3 741.70,292.5 741.87,291.8 742.04,291.0 742.21,290.2 742.38,289.4 742.56,288.6 742.73,287.7 742.91,286.8 743.09,285.8 743.27,285.1 743.45,284.4 743.63,283.8 743.80,283.0 743.98,282.0 744.15,281.1 744.32,280.2 744.49,279.4 744.66,278.7 744.82,277.9 744.97,277.2 745.13,276.4 745.27,275.8 745.42,275.2 745.55,274.5 745.69,273.8 745.83,273.0 745.98,272.2 746.13,271.4 746.28,270.6 746.44,269.8 746.60,268.9 746.76,268.1 746.92,267.2 747.09,266.4 747.25,265.5 747.42,264.6 747.59,263.6 747.76,262.8 747.92,261.9 748.09,261.1 748.25,260.2 748.41,259.3 748.57,258.4 748.73,257.7 748.89,256.8 749.04,256.0 749.19,255.2 749.33,254.6 749.47,254.0 749.60,253.3 749.73,252.5 749.86,251.8 749.97,251.2 750.08,250.7 750.27,249.9 750.45,249.1 750.63,248.1 750.82,247.2 751.00,246.2 751.18,245.4 751.35,244.4 751.53,243.6 751.71,242.8 751.88,241.9 752.05,241.0 752.22,240.1 752.38,239.5 752.55,238.8 752.71,238.3 752.86,237.7 753.02,237.3 753.17,236.7 753.58,235.6 754.03,234.5 754.52,233.6 755.01,232.8 755.49,232.4 755.93,232.0 756.33,232.0 756.67,231.9 757.03,232.1 757.40,232.6 757.78,233.2 758.15,233.9 758.51,235.0 758.85,236.1 759.17,237.7 759.25,238.1 759.33,238.6 759.41,239.2 759.49,239.7 759.58,240.3 759.67,240.9 759.75,241.6 759.84,242.5 759.93,243.3 760.02,244.1 760.12,244.9 760.21,245.8 760.30,246.8 760.39,247.7 760.49,248.7 760.58,249.6 760.67,250.5 760.77,251.3 760.86,252.4 760.95,253.2 761.04,254.3 761.14,255.1 761.23,256.1 761.32,257.0 761.41,257.9 761.49,258.7 761.58,259.7 761.67,260.5 761.75,261.3 761.83,262.1 761.91,262.8 761.98,263.5 762.06,264.0 762.14,264.8 762.22,265.7 762.31,266.5 762.39,267.3 762.48,268.2 762.57,269.0 762.67,269.9 762.76,270.7 762.85,271.7 762.95,272.5 763.05,273.5 763.14,274.3 763.24,275.2 763.34,276.2 763.44,277.1 763.53,277.9 763.63,278.7 763.73,279.6 763.82,280.7 763.92,281.7 764.01,282.7 764.11,283.5 764.20,284.1 764.29,284.8 764.37,285.6 764.46,286.5 764.54,287.4 764.62,288.0 764.70,288.6 764.78,289.2 764.85,289.8 764.92,290.2 765.07,291.2 765.22,292.1 765.37,293.1 765.53,294.1 765.69,295.2 765.85,296.2 766.01,297.1 766.17,297.9 766.32,298.8 766.48,299.6 766.63,300.5 766.78,301.3 766.93,301.8 767.07,302.3 767.20,302.6 767.33,303.2 767.89,304.7 768.50,305.5 769.12,305.7 769.67,305.2 769.87,305.0 770.09,304.5 770.32,304.1 770.55,303.4 770.79,302.8 771.04,302.0 771.28,301.0 771.52,299.9 771.76,298.9 772.00,297.7 772.09,297.2 772.18,296.5 772.27,296.0 772.37,295.4 772.47,294.7 772.57,294.1 772.68,293.4 772.79,292.6 772.91,291.6 773.02,290.8 773.14,290.0 773.26,289.1 773.38,288.0 773.50,286.9 773.62,286.0 773.74,285.3 773.86,284.5 773.98,283.5 774.10,282.5 774.22,281.5 774.33,280.6 774.45,279.8 774.56,279.0 774.67,278.1 774.78,277.3 774.88,276.6 774.99,275.9 775.08,275.0 775.19,274.3 775.30,273.7 775.41,273.1 775.53,272.2 775.64,271.3 775.77,270.5 775.89,269.6 776.02,268.7 776.14,267.8 776.27,266.8 776.40,265.8 776.53,265.0 776.66,264.2 776.79,263.4 776.92,262.4 777.05,261.4 777.18,260.6 777.31,260.0 777.44,259.1 777.56,258.4 777.68,257.7 777.80,257.0 777.92,256.4 778.03,255.7 778.14,255.1 778.25,254.5 778.44,253.6 778.63,252.5 778.84,251.7 779.06,250.8 779.27,249.9 779.50,248.9 779.72,247.9 779.95,247.0 780.18,246.1 780.40,245.3 780.62,244.7 780.83,244.0 781.04,243.4 781.23,242.8 781.42,242.5 781.89,241.4 782.41,240.6 782.96,239.7 783.50,239.3 784.02,239.2 784.50,239.4 784.90,239.6 785.32,240.2 785.77,241.0 786.23,242.0 786.71,243.0 787.19,243.7 787.67,244.2 788.18,244.5 788.77,244.6 789.41,244.3 790.10,244.1 790.82,244.1 791.57,244.5 792.33,245.2 792.65,245.5 793.01,246.0 793.39,246.2 793.81,246.7 794.25,247.2 794.71,248.0 795.19,248.7 795.67,249.2 796.17,249.8 796.66,250.5 797.15,251.2 797.64,251.8 798.11,252.4 798.57,253.2 799.01,254.0 799.43,254.9 799.81,255.7 800.17,256.5 800.41,256.9 800.66,257.4 800.91,258.1 801.16,258.9 801.42,259.7 801.68,260.5 801.94,261.2 802.20,262.1 802.46,262.8 802.72,263.6 802.98,264.3 803.25,265.3 803.51,266.2 803.77,267.1 804.02,268.0 804.28,268.9 804.53,269.8 804.78,270.5 805.03,271.3 805.27,271.9 805.51,272.5 805.75,273.1 805.98,273.9 806.20,274.5 806.42,275.0 806.79,275.9 807.18,276.6 807.60,277.5 808.04,278.2 808.48,279.1 808.94,279.8 809.40,280.7 809.85,281.4 810.31,282.3 810.75,282.8 811.18,283.5 811.59,284.0 811.98,284.5 812.34,285.0 812.67,285.4 813.33,286.2 814.00,286.7 814.66,286.8 815.33,286.9 815.99,287.3 816.66,287.9 817.33,288.5 817.67,288.7 818.06,289.0 818.48,289.6 818.92,290.2 819.40,291.0 819.88,291.5 820.37,292.3 820.87,293.0 821.35,293.7 821.82,294.4 822.26,295.1 822.68,295.8 823.06,296.5 823.39,297.1 823.67,297.8 823.94,298.5 824.19,299.0 824.42,299.6 824.63,300.5 824.83,301.3 825.00,302.3 825.17,302.9 825.33,303.7 825.48,304.4 825.63,305.3 825.78,306.2 825.93,307.1 826.08,308.1 826.17,308.8 826.27,309.7 826.36,310.6 826.46,311.0 826.57,311.4 826.67,312.2 826.78,312.9 826.89,313.5 826.99,314.0 827.10,315.2 827.21,316.2 827.32,317.3 827.43,317.8 827.54,318.8 827.65,320.0 827.75,321.2 827.86,322.1 827.96,322.8 828.06,323.5 828.15,324.1 828.24,324.9 828.33,325.7 828.42,326.7 828.47,327.2 828.53,327.8 828.59,328.6 828.64,329.7 828.70,330.7 828.76,331.2 828.83,331.8 828.89,332.4 828.95,333.4 829.01,334.2 829.08,335.0 829.14,335.7 829.21,336.8 829.27,337.6 829.34,338.2 829.40,338.9 829.47,340.0 829.53,341.0 829.59,342.0 829.66,342.5 829.72,343.5 829.78,344.3 829.85,345.2 829.91,346.2 829.97,347.0 830.03,348.0 830.09,349.0 830.14,349.9 830.20,350.7 830.25,351.5 830.31,352.3 830.36,353.2 830.41,353.9 830.45,354.5 830.50,355.3 830.55,356.0 830.59,356.6 830.64,357.3 830.68,358.1 830.73,359.0 830.78,359.9 830.82,360.6 830.87,361.4 830.92,362.1 830.97,363.1 831.01,363.8 831.06,364.8 831.11,365.4 831.16,366.5 831.20,367.3 831.25,368.4 831.30,369.5 831.35,370.6 831.39,371.3 831.44,372.2 831.49,372.8 831.53,373.8 831.58,374.3 831.62,375.3 831.67,376.0 831.71,376.9 831.76,377.5 831.80,378.3 831.84,379.0 831.88,379.7 831.93,380.6 831.97,381.3 832.01,382.2 832.05,382.9 832.08,383.8 832.14,384.5 832.20,385.3 832.27,386.1 832.33,387.2 832.40,388.0 832.47,388.7 832.54,389.7 832.61,390.7 832.68,391.7 832.75,392.6 832.82,393.2 832.90,394.3 832.97,395.3 833.04,396.5 833.11,397.1 833.17,397.8 833.24,398.4 833.30,399.2 833.36,399.8 833.42,400.2 833.48,400.8 833.53,401.1 833.58,401.7 833.72,403.3 833.85,404.8 833.99,406.1 834.12,407.1 834.25,407.7 834.39,408.3 834.53,408.6 834.67,408.9 834.79,408.5 834.93,407.8 835.09,407.1 835.26,406.4 835.43,405.5 835.61,404.6 835.78,403.7 835.95,402.6 836.11,401.2 836.25,400.0 836.31,399.6 836.37,399.2 836.43,398.6 836.50,398.0 836.56,397.2 836.63,396.3 836.69,395.4 836.76,394.5 836.83,393.5 836.90,392.3 836.97,391.3 837.04,390.5 837.11,389.8 837.18,388.8 837.25,387.8 837.32,386.6 837.40,385.8 837.47,384.9 837.54,384.4 837.61,383.7 837.69,382.8 837.76,382.2 837.83,381.3 837.94,380.8 838.06,379.9 838.18,379.0 838.31,377.8 838.44,376.5 838.58,375.9 838.73,375.1 838.88,374.6 839.03,373.7 839.18,372.6 839.34,371.7 839.50,370.8 839.67,370.0 839.83,369.2 840.00,368.8 840.17,368.3 840.53,367.4 840.93,366.6 841.38,366.1 841.87,365.4 842.39,364.8 842.93,364.3 843.50,363.9 844.08,363.7 844.62,363.3 845.28,363.0 846.02,362.5 846.82,362.5 847.65,362.8 848.48,363.0 849.27,363.0 850.00,363.1 850.65,363.3 851.17,363.2 851.87,363.4 852.50,364.0 853.06,364.9 853.59,365.9 854.09,366.4 854.58,366.6 854.98,366.4 855.43,365.9 855.90,365.0 856.39,364.2 856.87,363.2 857.34,362.8 857.78,362.1 858.17,362.1 858.78,361.9 859.44,362.1 860.11,362.3 860.75,363.0 861.33,364.4 861.50,364.8 861.67,365.4 861.85,366.1 862.04,367.0 862.23,368.0 862.42,368.9 862.62,369.9 862.82,370.7 863.02,371.4 863.22,372.3 863.41,373.4 863.60,374.3 863.78,374.9 863.95,375.6 864.12,376.3 864.27,377.1 864.42,377.7 864.80,379.0 865.19,380.1 865.58,381.1 865.97,381.8 866.36,382.2 866.75,382.2 866.98,382.1 867.24,381.8 867.52,381.0 867.82,380.4 868.13,379.6 868.45,378.8 868.76,377.4 869.07,376.3 869.37,375.1 869.66,374.4 869.92,373.5 870.12,373.0 870.34,372.2 870.58,371.4 870.82,370.6 871.08,369.8 871.33,368.8 871.59,368.0 871.84,367.3 872.09,366.7 872.32,366.0 872.54,364.8 872.75,364.0 872.93,363.0 873.08,362.7 873.29,361.8 873.48,361.2 873.65,360.3 873.81,359.3 873.97,358.2 874.12,357.5 874.26,357.0 874.42,356.5 874.58,355.4 874.78,354.3 875.02,353.6 875.28,352.9 875.56,352.0 875.84,351.0 876.11,350.1 876.34,349.1 876.53,348.5 876.67,348.0"/>
<polyline stroke="#515151" stroke-width="4.5" points="51.67,448.1 51.86,448.1 51.96,448.2 52.20,448.2 52.83,448.3 54.10,447.9 56.25,447.8 56.59,447.8 56.97,448.0 57.38,448.1 57.82,447.8 58.29,447.8 58.78,447.5 59.31,447.7 59.85,447.7 60.43,447.6 61.02,447.5 61.64,447.4 62.28,447.7 62.93,447.8 63.61,447.8 64.30,447.7 65.01,447.5 65.73,447.6 66.47,447.4 67.21,447.3 67.97,447.4 68.74,447.4 69.52,447.5 70.30,447.5 71.09,447.7 71.88,447.7 72.68,447.7 73.48,447.6 74.28,447.7 75.07,447.4 75.87,447.6 76.67,447.5 77.46,447.8 78.24,447.8 79.02,447.6 79.79,447.4 80.55,447.1 81.31,447.1 82.05,446.9 82.77,447.0 83.49,447.1 84.19,447.1 84.87,447.2 85.53,447.1 86.18,447.2 86.81,447.2 87.41,447.3 87.99,447.3 88.55,447.1 89.08,447.2 89.73,447.1 90.39,447.3 91.06,447.0 91.75,447.2 92.45,447.2 93.16,447.2 93.88,447.2 94.61,447.0 95.34,447.2 96.08,446.9 96.83,446.8 97.58,446.6 98.33,447.0 99.08,447.0 99.84,447.2 100.60,447.2 101.35,447.4 102.10,447.3 102.85,447.0 103.59,446.9 104.33,447.0 105.06,446.9 105.78,447.0 106.49,447.0 107.19,447.2 107.89,447.0 108.56,447.0 109.23,446.7 109.88,446.8 110.51,446.7 111.13,447.0 111.73,447.0 112.31,447.1 112.87,446.9 113.41,446.9 113.93,446.7 114.42,446.5 114.89,446.4 115.33,446.3 115.75,446.5 116.73,446.8 117.66,446.7 118.54,446.4 119.38,446.3 120.17,446.3 120.92,446.3 121.63,445.9 122.30,445.8 122.94,445.9 123.55,445.8 124.13,445.7 124.68,445.3 125.21,445.4 125.71,445.3 126.20,445.4 126.67,445.4 127.45,445.4 128.16,445.5 128.83,445.6 129.47,445.9 130.10,446.1 130.75,446.0 131.42,446.2 132.13,446.4 132.92,447.2 133.29,447.4 133.70,447.8 134.14,448.2 134.61,448.8 135.11,449.5 135.63,449.7 136.17,450.1 136.72,450.5 137.29,451.1 137.87,451.6 138.46,452.0 139.05,452.5 139.64,453.1 140.22,453.9 140.80,454.7 141.36,455.3 141.92,455.7 142.45,456.1 142.96,456.4 143.45,456.9 143.92,457.5 144.35,458.2 144.81,458.7 145.29,459.2 145.78,459.6 146.28,460.3 146.79,460.8 147.32,461.3 147.85,461.8 148.38,462.3 148.92,462.8 149.46,463.4 150.00,464.0 150.53,464.7 151.06,465.3 151.58,465.9 152.09,466.5 152.59,467.2 153.08,467.5 153.54,468.0 153.99,468.5 154.43,469.2 154.83,469.8 155.20,470.5 155.57,471.0 155.95,471.7 156.34,472.2 156.73,472.8 157.12,473.5 157.52,474.3 157.92,474.9 158.32,475.7 158.73,476.4 159.13,477.3 159.54,478.1 159.95,478.8 160.35,479.5 160.76,480.1 161.16,480.6 161.56,481.4 161.96,482.2 162.36,483.0 162.75,483.6 163.13,484.2 163.51,484.8 163.88,485.2 164.25,485.8 164.66,486.3 165.09,487.0 165.54,487.4 166.01,488.0 166.49,488.6 166.99,489.2 167.50,489.8 168.02,490.1 168.55,490.5 169.09,491.0 169.62,491.7 170.16,492.3 170.70,492.9 171.24,493.5 171.77,494.0 172.29,494.5 172.80,494.9 173.31,495.5 173.80,495.9 174.27,496.5 174.73,497.1 175.17,497.6 175.55,498.1 175.96,498.7 176.38,499.3 176.82,500.1 177.27,500.7 177.73,501.3 178.20,502.0 178.68,502.5 179.16,503.3 179.65,503.8 180.14,504.6 180.63,505.2 181.12,506.1 181.61,506.8 182.09,507.5 182.56,508.1 183.02,508.7 183.47,509.5 183.91,510.1 184.34,510.9 184.74,511.7 185.13,512.5 185.50,513.0 185.85,513.5 186.17,514.0 186.53,514.6 186.90,515.1 187.26,515.8 187.63,516.6 187.99,517.6 188.35,518.5 188.70,519.3 189.05,519.9 189.40,520.7 189.75,521.3 190.09,522.0 190.42,522.7 190.75,523.6 191.08,524.4 191.40,525.1 191.71,525.8 192.01,526.6 192.31,527.1 192.61,527.4 192.89,527.9 193.17,528.5 193.69,529.3 194.23,530.1 194.78,530.6 195.34,531.1 195.91,531.3 196.50,531.7 197.08,532.1 197.68,532.5 198.28,532.7 198.89,533.3 199.50,533.9 199.90,534.3 200.33,534.5 200.81,534.9 201.31,535.5 201.84,536.0 202.40,536.6 202.97,537.2 203.55,537.9 204.13,538.4 204.72,538.9 205.31,539.3 205.89,540.2 206.45,540.9 207.00,541.4 207.52,541.7 208.02,542.0 208.49,542.7 208.92,543.2 209.42,543.8 209.95,544.2 210.49,544.9 211.05,545.5 211.62,546.2 212.19,546.7 212.76,547.3 213.32,547.8 213.87,548.5 214.41,548.9 214.92,549.4 215.41,549.9 215.87,550.4 216.29,550.8 216.67,551.1 217.43,551.7 218.17,551.9 218.90,552.1 219.59,552.2 220.25,552.6 220.86,552.8 221.42,552.9 222.04,552.5 222.69,552.3 223.34,552.0 224.00,551.9 224.67,551.5 225.33,551.2 225.81,550.9 226.36,550.6 226.96,550.1 227.59,549.7 228.24,549.2 228.90,548.7 229.54,548.3 230.17,548.0 230.75,547.8 231.35,547.9 232.02,547.9 232.74,548.2 233.49,548.2 234.26,548.4 235.02,548.7 235.75,548.8 236.45,548.9 237.08,548.8 237.71,548.9 238.39,548.9 239.11,548.8 239.84,548.8 240.58,548.9 241.32,548.7 242.03,548.4 242.71,548.2 243.33,548.0 243.73,547.8 244.15,547.2 244.59,546.7 245.04,546.2 245.51,545.9 245.98,545.3 246.46,544.3 246.94,543.6 247.41,542.7 247.88,542.2 248.33,541.6 248.77,541.0 249.19,540.2 249.58,539.4 249.93,538.9 250.30,538.3 250.69,537.6 251.09,536.7 251.51,536.0 251.93,535.1 252.36,534.2 252.79,533.4 253.22,532.5 253.64,531.7 254.05,530.9 254.45,530.2 254.83,529.7 255.19,529.3 255.53,528.7 255.83,528.2 256.50,527.3 257.17,526.8 257.83,526.4 258.50,526.2 259.17,526.0 259.83,525.8 260.50,525.7 261.07,525.7 261.74,526.1 262.46,526.3 263.23,526.8 264.01,527.2 264.78,527.6 265.51,527.8 266.17,528.0 266.75,528.1 267.43,528.3 268.10,528.5 268.78,528.5 269.47,528.4 270.15,528.3 270.82,528.2 271.50,527.8 271.89,527.5 272.32,527.0 272.80,526.5 273.30,525.9 273.82,525.1 274.36,524.4 274.90,523.7 275.44,523.0 275.96,522.4 276.46,521.7 276.93,521.0 277.36,520.4 277.75,519.7 278.18,519.2 278.63,518.3 279.08,517.6 279.53,516.8 279.98,516.2 280.43,515.4 280.87,514.4 281.29,513.8 281.69,513.3 282.07,512.9 282.42,512.3 283.04,511.7 283.68,511.1 284.33,510.8 284.99,510.5 285.66,510.6 286.33,510.9 286.69,511.1 287.09,511.4 287.52,512.0 287.98,512.7 288.46,513.5 288.96,514.1 289.46,514.8 289.96,515.5 290.45,516.2 290.94,516.8 291.40,517.5 291.83,517.9 292.28,518.3 292.79,518.7 293.33,519.2 293.90,519.8 294.49,520.6 295.08,521.3 295.67,522.0 296.24,522.4 296.78,522.9 297.27,523.5 297.71,524.1 298.08,524.6 298.58,525.2 299.05,526.0 299.49,526.9 299.90,527.7 300.29,528.6 300.64,529.3 300.96,530.0 301.25,530.1 301.55,529.9 301.85,529.2 302.13,528.4 302.40,527.4 302.65,526.4 302.88,525.4 303.08,524.3 303.20,523.8 303.29,523.1 303.38,522.4 303.47,521.4 303.55,520.6 303.64,519.5 303.74,518.6 303.86,517.5 303.99,516.7 304.15,515.7 304.33,515.1 304.56,514.4 304.84,513.7 305.17,512.7 305.53,511.8 305.91,510.9 306.31,510.1 306.72,509.5 307.12,509.0 307.52,508.4 307.90,508.0 308.25,507.5 308.83,507.3 309.50,507.4 310.22,507.8 310.95,508.1 311.67,508.3 312.34,508.6 312.92,509.0 313.71,509.1 314.56,509.1 315.42,509.0 316.20,508.7 316.83,508.4 317.40,508.0 317.98,507.6 318.51,507.0 318.95,506.3 319.25,505.7 319.32,505.2 319.27,504.4 319.15,503.4 319.03,502.4 318.97,501.6 319.02,500.8 319.25,500.2 319.47,499.5 319.76,498.9 320.09,498.1 320.48,497.5 320.90,496.8 321.37,496.1 321.87,495.4 322.39,494.8 322.94,494.1 323.50,493.4 324.08,492.9 324.67,492.4 325.08,492.2 325.55,491.7 326.06,491.4 326.61,491.0 327.20,490.6 327.81,490.1 328.45,489.9 329.11,489.6 329.79,489.4 330.47,489.1 331.16,488.5 331.84,488.0 332.52,487.6 333.19,487.3 333.85,487.1 334.48,486.7 335.09,486.4 335.67,486.1 336.19,485.9 336.75,485.4 337.33,485.0 337.94,484.6 338.58,484.2 339.24,483.7 339.90,483.2 340.58,482.7 341.27,482.4 341.96,482.1 342.65,481.7 343.33,481.2 344.01,480.6 344.67,480.2 345.32,479.8 345.95,479.5 346.55,479.2 347.12,479.0 347.66,478.6 348.17,478.4 348.83,478.0 349.53,477.8 350.25,477.4 350.99,477.2 351.74,477.0 352.49,476.8 353.24,476.5 353.99,476.5 354.71,476.3 355.41,476.2 356.08,476.0 356.72,475.9 357.31,475.7 357.85,475.5 358.33,475.4 359.12,475.2 359.82,475.2 360.47,475.1 361.09,475.0 361.72,474.8 362.39,474.7 363.14,474.4 364.00,474.1 364.43,473.7 364.89,473.4 365.38,473.2 365.90,473.1 366.44,472.8 367.02,472.5 367.62,472.2 368.24,471.9 368.89,471.5 369.56,471.0 370.26,470.5 370.98,470.2 371.71,470.1 372.47,469.9 373.24,469.6 374.03,469.1 374.84,468.7 375.67,468.4 376.11,468.3 376.59,468.0 377.09,467.9 377.63,467.9 378.19,467.9 378.78,467.6 379.39,467.4 380.03,467.1 380.68,467.1 381.35,466.9 382.04,466.9 382.74,466.7 383.46,466.4 384.18,466.1 384.92,466.0 385.67,465.9 386.42,465.7 387.17,465.4 387.93,465.3 388.68,465.2 389.44,465.1 390.19,465.0 390.94,464.7 391.68,464.5 392.42,464.3 393.14,464.1 393.85,463.9 394.55,463.8 395.23,463.5 395.90,463.5 396.55,463.3 397.18,463.3 397.78,463.2 398.36,463.0 398.92,462.8 399.54,462.6 400.18,462.6 400.84,462.5 401.51,462.5 402.20,462.3 402.91,462.2 403.62,461.9 404.35,462.0 405.08,462.0 405.81,462.0 406.56,461.8 407.30,461.6 408.05,461.3 408.80,461.3 409.54,461.2 410.29,461.0 411.02,460.8 411.76,460.6 412.48,460.7 413.19,460.8 413.89,460.7 414.58,460.6 415.25,460.4 415.91,460.5 416.55,460.4 417.17,460.4 417.77,460.4 418.34,460.3 418.89,460.1 419.42,460.0 419.92,460.0 420.66,460.0 421.40,460.0 422.14,460.0 422.86,460.0 423.59,460.1 424.31,460.2 425.02,460.4 425.73,460.6 426.43,460.8 427.13,461.0 427.82,461.2 428.50,461.4 429.19,461.4 429.86,461.5 430.54,461.5 431.21,461.6 431.87,461.6 432.53,461.6 433.18,461.6 433.83,461.6 434.36,461.4 434.92,461.2 435.50,461.0 436.09,460.9 436.71,460.9 437.34,460.9 437.99,460.8 438.65,460.6 439.33,460.4 440.01,460.1 440.70,460.0 441.40,459.6 442.10,459.5 442.80,459.3 443.50,459.3 444.20,459.1 444.90,458.9 445.60,458.7 446.28,458.4 446.96,458.2 447.63,457.9 448.29,457.7 448.93,457.6 449.56,457.5 450.17,457.8 450.72,457.4 451.31,457.4 451.94,456.6 452.59,456.3 453.27,456.1 453.98,456.5 454.70,456.7 455.44,457.2 456.20,457.0 456.96,456.5 457.73,455.8 458.51,455.8 459.29,455.8 460.06,456.2 460.83,455.8 461.59,456.0 462.34,455.5 463.07,455.4 463.78,454.8 464.48,455.0 465.14,455.3 465.78,455.2 466.39,455.1 466.96,454.9 467.49,454.9 467.99,454.3 468.43,454.1 468.83,454.5 469.88,454.8 470.73,454.5 471.42,453.7 471.99,452.9 472.49,452.3 472.97,452.3 473.46,452.0 474.01,451.7 474.67,451.5 475.13,452.1 475.64,452.3 476.20,452.1 476.79,451.9 477.42,452.6 478.08,453.5 478.75,454.0 479.43,454.2 480.12,454.7 480.81,455.6 481.49,456.4 482.15,456.9 482.80,456.8 483.42,456.9 484.00,457.2 484.59,458.0 485.21,458.0 485.86,458.1 486.55,457.9 487.25,458.3 487.98,457.9 488.71,457.9 489.46,457.7 490.20,457.9 490.94,457.3 491.67,456.7 492.39,456.4 493.09,456.3 493.77,456.1 494.42,456.3 494.96,456.2 495.54,456.5 496.14,456.4 496.78,456.7 497.43,456.5 498.10,456.2 498.79,456.1 499.48,455.9 500.18,455.6 500.89,455.3 501.58,454.4 502.28,453.7 502.96,452.8 503.63,452.6 504.28,452.5 504.91,452.6 505.51,452.8 506.08,452.9 506.67,452.4 507.26,452.1 507.86,451.8 508.46,451.8 509.07,451.4 509.69,451.3 510.32,451.2 510.97,451.4 511.63,451.2 512.31,451.5 513.01,451.6 513.73,451.1 514.48,450.9 515.25,450.6 516.06,450.7 516.89,450.1 517.75,449.8 518.21,449.9 518.70,450.3 519.22,450.6 519.78,450.6 520.36,450.2 520.97,449.9 521.61,450.1 522.26,450.5 522.94,450.5 523.64,450.2 524.35,449.8 525.08,450.0 525.82,450.2 526.57,450.0 527.33,449.6 528.10,449.4 528.88,449.9 529.65,449.6 530.43,449.6 531.21,449.2 531.99,449.5 532.76,450.0 533.53,450.4 534.28,450.3 535.03,450.2 535.77,449.9 536.49,449.8 537.20,449.7 537.89,449.7 538.56,450.0 539.20,449.6 539.83,449.6 540.43,449.2 541.00,449.2 541.62,449.5 542.27,449.6 542.94,449.3 543.63,449.1 544.34,449.4 545.07,449.6 545.80,449.7 546.55,449.0 547.31,448.8 548.07,449.1 548.84,449.5 549.61,449.6 550.39,448.8 551.16,448.5 551.93,448.6 552.69,448.8 553.44,448.9 554.19,448.9 554.92,449.0 555.64,449.0 556.34,448.3 557.02,447.8 557.69,447.8 558.33,448.0 558.94,448.6 559.53,448.6 560.09,449.0 560.62,448.6 561.12,448.7 561.58,448.6 562.00,449.0 563.00,448.4 563.92,448.5 564.78,448.2 565.56,449.0 566.29,449.3 566.96,449.3 567.58,449.1 568.16,448.8 568.70,449.2 569.21,449.4 569.70,450.0 570.17,450.0 570.77,450.3 571.36,450.5 571.93,450.9 572.48,451.6 573.01,452.5 573.51,453.8 573.99,454.4 574.43,454.6 574.83,455.6 575.00,456.6 575.17,457.5 575.35,457.6 575.53,457.6 575.71,458.4 575.89,459.7 576.07,460.2 576.26,460.3 576.44,460.7 576.62,461.6 576.80,462.9 576.97,463.7 577.15,464.9 577.31,465.4 577.48,466.4 577.64,467.5 577.79,468.9 577.94,469.6 578.08,470.0 578.21,471.1 578.33,472.4 578.38,473.1 578.44,473.5 578.49,474.3 578.54,475.3 578.59,475.8 578.64,476.4 578.70,476.6 578.75,477.5 578.80,478.3 578.86,479.0 578.91,479.7 578.96,480.5 579.01,481.2 579.07,482.3 579.12,482.9 579.17,484.1 579.22,484.9 579.28,486.0 579.33,486.6 579.38,487.4 579.43,487.7 579.48,488.9 579.54,489.7 579.59,490.6 579.64,491.5 579.69,492.5 579.74,493.9 579.79,495.3 579.83,496.2 579.88,497.0 579.93,497.7 579.98,499.1 580.02,500.3 580.07,501.4 580.12,501.8 580.16,502.1 580.20,502.9 580.25,503.6 580.29,504.6 580.33,505.3 580.37,506.4 580.41,507.1 580.45,508.0 580.49,508.6 580.53,509.4 580.56,510.0 580.60,510.6 580.63,511.1 580.67,511.4 580.71,512.6 580.76,513.3 580.80,514.0 580.84,514.5 580.89,515.2 580.93,515.9 580.97,516.7 581.01,518.2 581.05,518.9 581.09,519.8 581.13,520.4 581.17,521.6 581.21,522.3 581.25,523.1 581.28,523.8 581.32,524.7 581.36,525.3 581.40,525.8 581.44,526.5 581.47,527.5 581.51,528.4 581.55,529.7 581.59,529.9 581.63,530.5 581.67,530.7 581.71,531.9 581.75,533.1 581.79,533.9 581.83,534.2 581.87,535.2 581.91,536.4 581.95,537.9 582.00,538.2 582.04,539.1 582.08,539.4 582.11,540.5 582.14,541.1 582.17,542.1 582.20,542.4 582.24,543.3 582.27,543.6 582.30,544.2 582.34,544.7 582.38,545.4 582.41,546.2 582.45,546.7 582.49,547.9 582.52,549.3 582.56,550.3 582.60,550.7 582.64,551.3 582.68,552.3 582.72,553.2 582.77,554.1 582.81,554.5 582.85,555.5 582.89,555.8 582.94,557.1 582.98,558.1 583.02,559.7 583.07,560.4 583.11,561.0 583.15,561.4 583.20,562.1 583.24,563.6 583.29,564.5 583.33,565.4 583.38,566.2 583.42,567.1 583.47,568.0 583.51,569.0 583.56,570.0 583.60,570.9 583.65,571.6 583.69,572.5 583.74,573.5 583.78,574.4 583.83,575.3 583.87,576.2 583.91,576.9 583.96,577.7 584.00,578.4 584.04,579.3 584.09,580.2 584.13,581.0 584.17,581.8 584.21,582.5 584.25,583.3 584.29,584.0 584.33,584.7 584.37,585.2 584.41,585.8 584.46,586.6 584.50,587.5 584.55,588.2 584.59,589.0 584.64,589.8 584.69,590.7 584.73,591.4 584.78,592.2 584.83,592.8 584.88,593.7 584.94,594.4 584.99,595.4 585.04,596.3 585.09,597.0 585.15,597.9 585.20,598.7 585.26,599.7 585.31,600.5 585.37,601.3 585.42,602.1 585.48,602.9 585.54,603.7 585.59,604.5 585.65,605.5 585.71,606.4 585.77,607.4 585.82,608.2 585.88,609.0 585.94,609.7 585.99,610.8 586.05,611.8 586.11,612.8 586.16,613.5 586.22,614.2 586.27,615.0 586.33,615.8 586.38,616.6 586.44,617.5 586.49,618.3 586.54,619.1 586.60,619.9 586.65,620.9 586.70,621.9 586.75,622.7 586.80,623.3 586.85,624.0 586.90,624.7 586.95,625.6 586.99,626.2 587.04,627.1 587.08,627.8 587.12,628.6 587.17,629.1 587.21,629.9 587.25,630.7 587.29,631.5 587.34,632.2 587.38,632.8 587.43,633.7 587.48,634.6 587.52,635.5 587.57,636.3 587.62,637.1 587.67,638.0 587.72,638.8 587.76,639.7 587.81,640.4 587.86,641.4 587.91,642.4 587.96,643.4 588.01,644.3 588.07,645.3 588.12,646.2 588.17,647.0 588.22,648.0 588.27,648.9 588.32,649.8 588.37,650.8 588.42,651.8 588.47,652.6 588.52,653.4 588.57,654.4 588.62,655.4 588.67,656.3 588.72,657.3 588.77,658.1 588.82,659.0 588.87,659.6 588.91,660.6 588.96,661.5 589.01,662.5 589.05,663.3 589.10,664.1 589.14,664.7 589.18,665.6 589.23,666.3 589.27,667.1 589.31,667.7 589.35,668.5 589.39,669.1 589.43,669.9 589.47,670.5 589.50,671.2 589.54,671.7 589.57,672.3 589.60,672.9 589.64,673.5 589.67,673.9 589.76,675.2 589.85,676.4 589.93,677.6 590.02,678.7 590.10,679.6 590.18,680.7 590.26,681.5 590.34,682.4 590.42,683.1 590.49,684.0 590.56,684.5 590.63,685.2 590.70,685.7 590.77,686.4 590.83,686.9 590.89,687.5 590.95,688.0 591.00,688.6 591.10,689.6 591.19,690.7 591.29,691.7 591.38,692.9 591.48,693.9 591.57,694.9 591.66,695.6 591.75,696.2 591.83,696.4 591.92,696.8 592.01,696.7 592.11,696.5 592.21,695.7 592.32,694.8 592.43,693.7 592.54,692.7 592.66,691.5 592.79,690.5 592.92,689.6 592.99,689.1 593.07,688.5 593.15,687.8 593.24,687.2 593.34,686.4 593.44,685.6 593.54,684.8 593.65,683.9 593.76,683.1 593.87,682.4 593.98,681.7 594.10,680.7 594.21,679.8 594.33,678.8 594.44,677.9 594.55,676.9 594.67,676.0 594.73,675.5 594.80,674.9 594.87,674.3 594.95,673.6 595.03,672.9 595.11,672.2 595.20,671.6 595.28,670.8 595.37,669.9 595.46,669.3 595.56,668.5 595.65,667.8 595.75,667.0 595.84,666.3 595.94,665.5 596.04,664.6 596.14,663.6 596.24,662.8 596.34,662.0 596.43,661.2 596.53,660.3 596.63,659.3 596.72,658.4 596.81,657.5 596.91,656.5 597.00,655.4 597.08,654.4 597.17,653.6 597.25,652.6 597.33,651.4 597.38,650.7 597.42,650.1 597.47,649.6 597.51,648.9 597.56,648.3 597.61,647.5 597.65,646.9 597.70,646.2 597.75,645.7 597.80,644.9 597.85,644.1 597.90,643.4 597.96,642.7 598.01,642.0 598.06,641.0 598.11,640.0 598.17,639.1 598.22,638.3 598.28,637.3 598.33,636.4 598.39,635.6 598.44,634.8 598.50,634.0 598.55,633.1 598.61,632.2 598.66,631.3 598.72,630.4 598.77,629.5 598.83,628.4 598.88,627.4 598.94,626.5 599.00,625.7 599.05,624.7 599.11,623.8 599.16,622.7 599.22,621.7 599.27,620.8 599.32,620.0 599.38,619.2 599.43,618.3 599.48,617.4 599.54,616.6 599.59,615.8 599.64,614.8 599.69,614.0 599.74,613.2 599.79,612.4 599.84,611.6 599.89,610.7 599.94,610.0 599.99,609.3 600.03,608.6 600.08,607.9 600.12,607.3 600.17,606.9 600.22,606.3 600.28,605.4 600.34,604.6 600.40,603.6 600.46,602.7 600.53,601.6 600.59,600.7 600.65,599.9 600.72,599.2 600.78,598.4 600.85,597.5 600.91,596.6 600.98,595.8 601.05,594.8 601.11,593.9 601.18,592.9 601.25,591.9 601.32,591.0 601.39,590.2 601.45,589.3 601.52,588.4 601.59,587.5 601.66,586.6 601.73,585.8 601.80,584.8 601.87,584.1 601.94,583.3 602.01,582.5 602.07,581.7 602.14,580.9 602.21,580.2 602.28,579.5 602.34,578.8 602.41,578.1 602.47,577.4 602.54,576.6 602.60,576.1 602.67,575.3 602.73,574.9 602.79,574.4 602.86,574.0 602.92,573.4 603.09,572.0 603.29,570.7 603.49,569.6 603.70,568.4 603.93,567.2 604.15,566.1 604.38,565.2 604.62,564.3 604.85,563.5 605.07,562.8 605.30,562.1 605.51,561.7 605.71,561.5 605.91,561.3 606.08,561.2 606.25,561.1 606.43,561.4 606.61,561.7 606.79,562.0 606.98,562.4 607.16,563.1 607.35,563.8 607.54,564.6 607.73,565.6 607.92,566.6 608.10,567.9 608.29,569.0 608.47,570.5 608.66,571.8 608.83,573.3 608.88,573.7 608.93,574.2 608.98,574.9 609.04,575.5 609.09,576.1 609.15,576.6 609.20,577.4 609.26,578.1 609.32,578.8 609.38,579.5 609.44,580.2 609.50,581.0 609.57,581.7 609.63,582.4 609.70,583.3 609.76,584.2 609.83,585.1 609.89,586.0 609.96,586.8 610.03,587.8 610.09,588.7 610.16,589.6 610.23,590.6 610.30,591.5 610.37,592.4 610.44,593.3 610.51,594.5 610.58,595.4 610.65,596.3 610.71,597.2 610.78,598.2 610.85,599.3 610.92,600.1 610.99,601.1 611.06,601.9 611.12,602.9 611.19,603.9 611.26,604.9 611.32,606.0 611.39,606.9 611.45,607.8 611.52,608.7 611.58,609.4 611.64,610.2 611.70,610.9 611.76,611.8 611.82,612.5 611.88,613.4 611.94,614.1 611.99,615.0 612.05,615.7 612.10,616.5 612.15,617.0 612.20,617.6 612.25,618.2 612.33,619.0 612.41,619.9 612.49,620.8 612.57,621.8 612.66,622.6 612.74,623.4 612.83,624.3 612.92,625.4 613.00,626.4 613.09,627.3 613.18,628.2 613.27,629.1 613.36,630.1 613.45,631.0 613.53,631.8 613.62,632.6 613.71,633.5 613.80,634.5 613.88,635.3 613.97,636.1 614.05,636.9 614.14,637.7 614.22,638.6 614.30,639.4 614.38,640.0 614.46,640.6 614.53,641.2 614.61,641.8 614.68,642.5 614.75,643.0 614.81,643.6 614.88,644.0 614.94,644.5 615.00,644.9 615.27,646.6 615.53,648.2 615.79,649.4 616.04,650.1 616.29,650.4 616.56,650.4 616.83,650.2 617.00,649.9 617.18,649.9 617.38,649.5 617.59,649.1 617.81,648.3 618.03,647.6 618.27,647.0 618.51,646.2 618.75,645.5 618.99,644.4 619.22,643.2 619.45,641.8 619.67,640.2 619.73,639.7 619.81,639.1 619.88,638.6 619.95,638.1 620.03,637.6 620.11,636.9 620.20,636.2 620.28,635.6 620.37,635.0 620.46,634.4 620.55,633.6 620.64,632.8 620.73,632.0 620.82,631.1 620.92,630.2 621.01,629.2 621.11,628.3 621.21,627.3 621.30,626.5 621.40,625.6 621.50,624.7 621.60,623.7 621.70,622.8 621.79,622.1 621.89,621.3 621.99,620.4 622.08,619.5 622.18,618.6 622.27,617.6 622.36,616.6 622.45,615.6 622.54,614.8 622.63,614.0 622.72,613.3 622.80,612.4 622.89,611.4 622.97,610.4 623.05,609.7 623.12,608.9 623.19,608.2 623.27,607.4 623.33,606.7 623.40,606.0 623.47,605.4 623.54,604.7 623.60,604.0 623.67,603.2 623.74,602.3 623.81,601.7 623.88,600.7 623.95,600.0 624.03,599.1 624.10,598.3 624.17,597.4 624.24,596.6 624.31,595.7 624.38,594.8 624.45,593.8 624.53,592.8 624.60,591.8 624.67,591.0 624.74,590.1 624.81,589.2 624.88,588.3 624.95,587.5 625.02,586.6 625.09,585.8 625.16,584.9 625.23,584.0 625.30,583.2 625.37,582.4 625.43,581.5 625.50,580.7 625.57,579.8 625.63,579.1 625.69,578.5 625.76,577.7 625.82,577.0 625.88,576.3 625.94,575.6 626.00,574.9 626.06,574.4 626.11,573.8 626.17,573.4 626.28,572.2 626.39,571.1 626.51,570.0 626.63,568.9 626.75,567.9 626.88,567.0 627.01,565.9 627.13,564.9 627.26,563.8 627.39,562.9 627.52,561.9 627.64,560.9 627.77,560.0 627.89,559.5 628.01,558.8 628.13,558.2 628.25,557.6 628.36,557.1 628.47,556.8 628.57,556.6 628.67,556.5 628.78,556.6 628.90,556.8 629.02,557.3 629.13,558.1 629.25,558.8 629.36,559.6 629.48,560.5 629.60,561.5 629.72,562.7 629.85,563.9 629.97,564.9 630.11,566.1 630.24,567.1 630.38,568.1 630.53,569.0 630.68,569.7 630.83,570.2 631.30,571.1 631.88,571.9 632.53,572.5 633.22,573.1 633.89,573.4 634.50,573.6 635.00,573.4 635.34,573.3 635.69,572.8 636.04,572.4 636.39,571.7 636.73,570.9 637.06,570.1 637.37,569.1 637.66,568.1 637.92,567.1 638.03,566.6 638.14,566.0 638.25,565.3 638.36,564.5 638.47,563.7 638.57,562.7 638.68,561.9 638.79,561.0 638.89,560.1 639.00,559.1 639.11,558.1 639.23,557.1 639.35,556.3 639.47,555.6 639.60,554.8 639.73,554.1 639.87,553.2 640.01,552.5 640.17,552.0 640.50,551.3 640.90,550.4 641.34,549.5 641.83,548.6 642.34,547.8 642.87,547.2 643.39,546.6 643.90,546.2 644.39,545.9 644.83,545.7 645.40,545.7 646.04,546.0 646.73,546.5 647.44,547.3 648.14,547.8 648.82,548.4 649.45,548.6 650.00,548.6 650.29,548.0 650.59,547.5 650.90,547.0 651.22,546.3 651.53,545.5 651.85,544.6 652.17,543.6 652.49,542.8 652.80,541.7 653.11,541.0 653.41,540.1 653.70,539.2 653.98,538.4 654.25,537.8 654.68,536.9 655.14,536.1 655.62,535.2 656.12,534.5 656.63,533.9 657.14,533.5 657.64,533.0 658.12,532.5 658.58,532.2 659.12,532.3 659.70,532.6 660.33,533.0 660.98,533.5 661.65,534.1 662.31,534.8 662.96,535.5 663.58,536.0 664.01,536.5 664.49,536.9 665.00,537.6 665.54,538.3 666.11,538.8 666.68,539.5 667.26,539.9 667.82,540.6 668.37,541.0 668.90,541.5 669.39,541.7 669.83,542.0 670.50,542.3 671.21,542.3 671.96,541.9 672.71,541.4 673.44,540.9 674.14,540.6 674.78,540.7 675.33,541.0 675.70,541.2 676.08,541.7 676.47,542.1 676.85,542.8 677.23,543.3 677.60,544.1 677.97,544.9 678.32,545.8 678.65,546.6 678.96,547.6 679.25,548.4 679.46,549.0 679.68,549.7 679.90,550.4 680.13,551.3 680.37,552.1 680.61,553.0 680.84,554.1 681.07,555.2 681.30,556.2 681.52,557.1 681.73,558.0 681.92,558.8 682.11,559.4 682.27,559.9 682.42,560.3 682.87,561.6 683.25,562.6 683.61,563.1 684.00,563.2 684.27,562.9 684.59,562.5 684.94,561.7 685.31,560.9 685.68,559.9 686.02,558.9 686.33,557.7 686.44,557.2 686.55,556.4 686.66,555.8 686.77,555.2 686.88,554.5 687.00,553.6 687.11,552.6 687.23,551.9 687.35,551.0 687.48,550.2 687.60,549.1 687.73,548.1 687.86,547.2 687.99,546.4 688.12,545.5 688.25,544.6 688.39,543.7 688.53,543.1 688.67,542.4 688.86,541.8 689.08,541.0 689.33,540.4 689.60,539.6 689.88,538.7 690.17,537.7 690.47,537.0 690.78,536.2 691.08,535.5 691.37,534.8 691.65,533.9 691.92,533.3 692.17,532.6 692.39,532.1 692.58,531.5 692.91,530.7 693.23,529.6 693.54,528.4 693.83,527.3 694.12,526.3 694.40,525.8 694.66,525.3 694.92,524.8 695.47,524.7 696.08,525.3 696.70,526.3 697.25,527.4 697.46,528.0 697.68,528.8 697.92,529.7 698.17,530.6 698.42,531.7 698.67,532.7 698.91,533.6 699.15,534.4 699.37,534.8 699.58,535.2 700.13,535.0 700.75,534.4 701.36,533.3 701.92,532.3 702.12,531.9 702.34,531.1 702.57,530.3 702.80,529.4 703.04,528.4 703.29,527.4 703.54,526.4 703.80,525.6 704.06,525.2 704.33,524.9 704.95,524.4 705.68,523.8 706.50,523.5 707.37,523.7 708.25,524.2 708.61,524.5 709.01,525.0 709.46,525.6 709.93,526.2 710.43,526.8 710.95,527.4 711.47,528.3 712.01,529.1 712.54,529.8 713.06,530.5 713.56,531.2 714.05,531.8 714.50,532.3 715.00,532.8 715.56,533.3 716.16,533.9 716.78,534.4 717.43,535.0 718.08,535.5 718.73,536.0 719.36,536.3 719.96,536.6 720.53,536.9 721.05,537.0 721.50,537.0 722.06,536.8 722.63,536.5 723.20,536.2 723.76,535.7 724.31,535.2 724.84,534.4 725.34,533.6 725.82,532.9 726.25,532.2 726.48,531.8 726.72,531.2 726.96,530.6 727.20,529.9 727.44,529.0 727.68,528.2 727.93,527.2 728.17,526.4 728.42,525.4 728.67,524.6 728.92,523.8 729.17,522.9 729.42,522.2 729.67,521.3 729.92,520.7 730.17,520.0 730.53,519.5 730.93,518.7 731.37,518.1 731.84,517.3 732.33,516.6 732.83,516.1 733.33,515.6 733.83,515.0 734.31,514.3 734.77,513.7 735.20,513.1 735.58,512.5 735.99,511.7 736.43,511.0 736.88,510.3 737.34,509.6 737.81,508.7 738.27,507.9 738.73,507.1 739.17,506.4 739.59,505.7 739.98,505.2 740.33,505.0 740.71,505.3 741.09,505.8 741.47,506.5 741.86,507.4 742.26,508.4 742.65,509.5 743.05,510.3 743.45,511.1 743.85,511.5 744.25,511.6 744.60,511.3 744.97,511.0 745.38,510.6 745.80,510.0 746.24,509.3 746.70,508.6 747.18,508.0 747.66,507.1 748.16,506.1 748.66,505.3 749.16,504.6 749.67,504.1 750.07,503.7 750.53,503.2 751.03,502.6 751.57,502.0 752.14,501.6 752.73,501.1 753.34,500.7 753.96,500.0 754.57,499.4 755.19,498.8 755.78,498.4 756.36,497.8 756.91,497.4 757.43,497.0 757.91,496.8 758.33,496.7 759.06,496.5 759.81,496.5 760.58,496.5 761.34,496.7 762.08,497.0 762.79,497.2 763.45,497.4 764.06,497.5 764.58,497.5 765.27,497.1 765.91,496.6 766.53,496.1 767.15,495.7 767.79,495.5 768.50,495.6 768.87,495.8 769.29,496.0 769.75,496.4 770.24,497.0 770.76,497.5 771.30,498.1 771.85,498.6 772.40,499.3 772.96,500.0 773.50,500.9 774.03,501.5 774.53,502.2 775.00,502.8 775.30,503.4 775.62,503.8 775.96,504.4 776.30,504.9 776.66,505.7 777.02,506.3 777.40,506.9 777.78,507.4 778.17,508.1 778.55,508.8 778.94,509.7 779.33,510.3 779.72,511.1 780.11,511.9 780.48,512.7 780.86,513.6 781.22,514.2 781.58,514.9 781.92,515.6 782.25,516.4 782.50,517.0 782.75,517.7 783.02,518.3 783.30,519.0 783.59,519.6 783.88,520.2 784.18,521.0 784.49,521.9 784.80,522.5 785.12,523.2 785.44,524.1 785.76,525.0 786.08,525.7 786.40,526.4 786.72,527.2 787.03,528.0 787.35,528.8 787.66,529.5 787.96,530.4 788.26,531.3 788.55,532.0 788.83,532.8 789.11,533.6 789.37,534.3 789.62,535.0 789.86,535.7 790.08,536.4 790.32,537.1 790.56,537.8 790.80,538.5 791.05,539.3 791.29,539.9 791.54,540.6 791.79,541.4 792.03,542.3 792.28,543.1 792.53,543.9 792.78,544.7 793.03,545.7 793.27,546.4 793.52,547.2 793.76,547.8 794.00,548.6 794.24,549.5 794.47,550.4 794.70,551.0 794.93,551.7 795.15,552.5 795.37,553.2 795.59,553.9 795.80,554.5 796.00,555.3 796.23,555.9 796.48,556.5 796.73,557.1 796.99,557.9 797.25,558.7 797.52,559.4 797.80,560.1 798.07,560.9 798.35,561.6 798.64,562.3 798.92,563.1 799.20,563.9 799.49,564.8 799.77,565.5 800.05,566.3 800.32,567.0 800.59,567.8 800.85,568.3 801.11,569.1 801.36,570.0 801.60,570.8 801.83,571.7 802.02,572.3 802.21,573.0 802.41,573.5 802.61,574.1 802.82,574.7 803.03,575.5 803.25,576.3 803.46,577.1 803.68,578.0 803.90,578.9 804.13,579.8 804.35,580.5 804.58,581.3 804.81,582.1 805.03,583.0 805.26,583.9 805.49,584.8 805.72,585.6 805.94,586.6 806.17,587.4 806.39,588.4 806.61,589.2 806.83,590.1 807.04,590.7 807.25,591.5 807.46,592.1 807.67,592.9 807.88,593.5 808.11,594.2 808.35,594.8 808.59,595.6 808.85,596.4 809.11,597.3 809.37,598.1 809.65,599.0 809.93,599.6 810.21,600.4 810.49,601.2 810.78,602.1 811.07,603.1 811.36,603.8 811.65,604.7 811.94,605.6 812.23,606.6 812.51,607.4 812.79,608.1 813.07,608.8 813.34,609.6 813.60,610.3 813.86,611.0 814.11,611.5 814.35,612.1 814.58,612.7 814.90,613.5 815.24,614.1 815.59,614.8 815.95,615.5 816.32,616.4 816.70,617.2 817.08,618.0 817.47,618.7 817.86,619.2 818.25,619.7 818.64,620.2 819.02,621.1 819.40,621.8 819.77,622.5 820.13,622.9 820.48,623.5 820.81,624.1 821.12,624.7 821.42,625.4 821.72,626.0 822.03,626.7 822.34,627.4 822.66,628.1 822.98,629.0 823.30,629.8 823.62,630.8 823.95,631.6 824.28,632.4 824.61,633.0 824.94,633.8 825.27,634.4 825.60,635.2 825.93,636.0 826.27,636.7 826.60,637.5 826.92,638.0 827.25,638.5 827.64,639.0 828.06,639.6 828.51,640.3 828.98,641.0 829.48,641.5 830.00,642.1 830.52,642.7 831.06,643.4 831.60,644.1 832.14,644.7 832.67,645.3 833.19,645.7 833.70,646.1 834.18,646.6 834.65,647.1 835.08,647.4 835.55,648.1 836.05,648.9 836.58,649.8 837.14,650.4 837.70,650.8 838.28,651.3 838.87,651.9 839.45,652.4 840.02,652.9 840.57,653.5 841.11,654.0 841.62,654.4 842.09,655.0 842.53,655.5 842.92,655.7 843.67,655.9 844.39,656.2 845.09,656.5 845.77,656.6 846.44,656.5 847.13,656.2 847.83,656.1 848.28,656.0 848.76,655.7 849.28,655.3 849.82,654.7 850.40,654.4 850.99,653.7 851.60,653.0 852.22,652.6 852.84,651.9 853.45,651.5 854.07,650.6 854.67,650.2 855.06,649.7 855.50,649.2 855.97,648.6 856.46,648.3 856.99,647.7 857.54,647.1 858.10,646.4 858.67,646.0 859.25,645.4 859.83,644.8 860.41,644.4 860.99,643.8 861.55,643.1 862.09,642.3 862.62,642.0 863.12,641.4 863.59,641.1 864.02,640.4 864.42,639.7 864.87,638.9 865.33,638.3 865.80,637.7 866.28,636.8 866.76,636.3 867.24,635.9 867.72,635.5 868.19,634.3 868.64,633.5 869.08,633.0 869.51,632.6 869.91,631.9 870.29,631.1 870.64,630.4 870.96,629.9 871.25,629.3 871.60,628.4 871.92,627.3 872.23,626.7 872.52,626.1 872.80,625.6 873.06,624.4 873.31,623.3 873.54,622.4 873.77,621.7 873.99,621.1 874.21,620.2 874.42,619.7 874.66,619.1 874.92,618.4 875.20,617.4 875.49,616.3 875.78,615.2 876.06,614.3 876.32,613.4 876.57,612.6 876.78,612.1 876.95,611.6 877.08,611.2"/>
</g>
</g>
<g fill="#000">
<text x="67" y="781.5" font-size="33.5" text-anchor="middle">4000</text><text x="204" y="781.5" font-size="33.5" text-anchor="middle">3500</text><text x="340.3" y="781.5" font-size="33.5" text-anchor="middle">3000</text><text x="476.5" y="781.5" font-size="33.5" text-anchor="middle">2500</text><text x="612.8" y="781.5" font-size="33.5" text-anchor="middle">2000</text><text x="749.2" y="781.5" font-size="33.5" text-anchor="middle">1500</text><text x="885.6" y="781.5" font-size="33.5" text-anchor="middle">1000</text><text x="1022" y="781.5" font-size="33.5" text-anchor="middle">500</text>
<text x="402.2" y="830" font-size="38" textLength="197" lengthAdjust="spacingAndGlyphs">Wavenubmer</text>
<text x="610.5" y="830" font-size="38" textLength="60.5" lengthAdjust="spacingAndGlyphs">(cm</text>
<text x="672.8" y="808.6" font-size="17">−</text>
<text x="683" y="814" font-size="35">1</text>
<text x="700.5" y="830" font-size="38">)</text>
<text transform="translate(42.5,515) rotate(-90)" font-size="38" textLength="280.6" lengthAdjust="spacingAndGlyphs">Transmittance (%)</text>
<text x="962.3" y="67.6" font-size="38">CPP</text>
<text x="962.3" y="113.4" font-size="38">PPP</text>
</g>
<line x1="867" y1="53.8" x2="946.5" y2="53.8" stroke="#f14040" stroke-width="4.2"/>
<line x1="867" y1="100.1" x2="946.5" y2="100.1" stroke="#515151" stroke-width="4.2"/>
<g stroke="#000" stroke-width="2.2" stroke-linecap="butt">
<line x1="840.9" y1="355" x2="840.9" y2="379"/>
<line x1="875" y1="348.5" x2="894" y2="369.2"/>
<line x1="923.6" y1="301.4" x2="936.1" y2="329"/>
<line x1="262.3" y1="553.6" x2="262.3" y2="582"/>
<line x1="363.7" y1="533" x2="363.7" y2="552.5"/>
<line x1="741.3" y1="647" x2="758.1" y2="673.3"/>
<line x1="705.7" y1="686.7" x2="678.9" y2="704.5"/>
</g>
<g fill="#000" font-size="24.6" lengthAdjust="spacingAndGlyphs">
<text x="810" y="396" textLength="47" lengthAdjust="spacingAndGlyphs">1173</text>
<text x="880" y="387.2" textLength="47" lengthAdjust="spacingAndGlyphs">1044</text>
<text x="926.6" y="347" textLength="36" lengthAdjust="spacingAndGlyphs">869</text>
<text x="244.4" y="598.2" textLength="47" lengthAdjust="spacingAndGlyphs">3264</text>
<text x="345.4" y="575.3" textLength="47" lengthAdjust="spacingAndGlyphs">2941</text>
<text x="745.3" y="695.2" textLength="47" lengthAdjust="spacingAndGlyphs">1542</text>
<text x="634.6" y="716.6" textLength="46.5" lengthAdjust="spacingAndGlyphs">1650</text>
</g>
</svg>
</body></html>
